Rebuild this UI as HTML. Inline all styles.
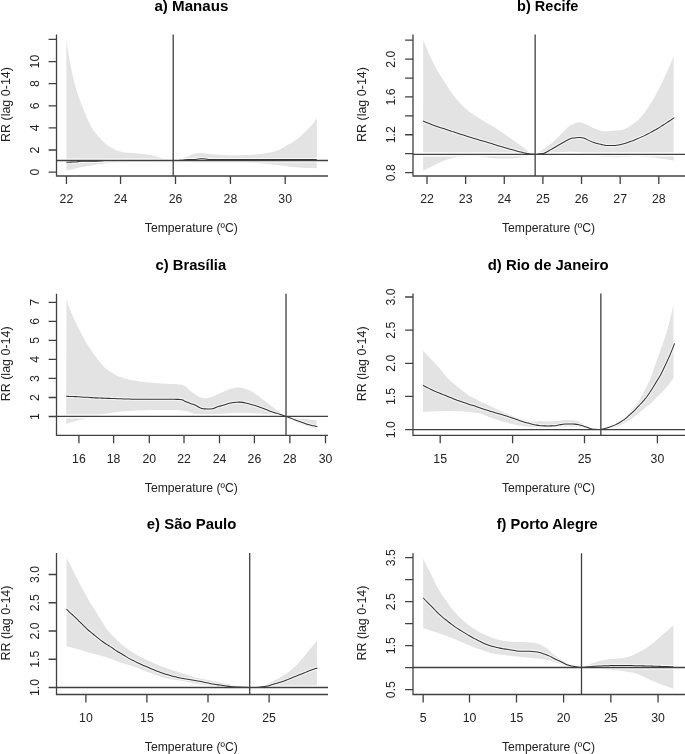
<!DOCTYPE html><html><head><meta charset="utf-8"><style>html,body{margin:0;padding:0;background:#fff;overflow:hidden}svg{display:block;will-change:transform}</style></head><body>
<svg width="685" height="754" viewBox="0 0 685 754" font-family='"Liberation Sans", sans-serif'>
<rect width="685" height="754" fill="#fff"/>
<g><path d="M66.4,39.2 66.6,40.7 66.8,42.2 67.0,43.7 67.2,45.1 67.4,46.6 67.6,48.1 67.8,49.6 68.0,51.1 68.3,52.6 68.5,54.1 68.7,55.5 69.0,57.0 69.3,58.5 69.5,60.0 69.8,61.4 70.1,62.9 70.4,64.4 70.7,65.8 71.0,67.3 71.3,68.8 71.6,70.3 71.9,71.7 72.2,73.2 72.5,74.7 72.9,76.1 73.2,77.6 73.5,79.0 73.9,80.5 74.2,82.0 74.6,83.4 75.0,84.9 75.4,86.3 75.8,87.8 76.2,89.2 76.6,90.6 77.1,92.1 77.5,93.5 78.0,94.9 78.5,96.3 79.0,97.8 79.5,99.2 80.0,100.6 80.6,102.0 81.1,103.4 81.6,104.8 82.2,106.2 82.7,107.6 83.3,108.9 83.9,110.3 84.4,111.7 85.0,113.1 85.6,114.5 86.1,115.9 86.7,117.3 87.3,118.7 87.9,120.0 88.6,121.4 89.2,122.7 89.9,124.1 90.5,125.4 91.2,126.8 92.0,128.1 92.8,129.3 93.6,130.5 94.6,131.7 95.5,132.9 96.5,134.1 97.4,135.2 98.3,136.4 99.3,137.5 100.3,138.6 101.4,139.7 102.4,140.8 103.5,141.9 104.5,142.9 105.7,143.9 106.8,144.8 108.1,145.7 109.3,146.5 110.6,147.3 111.9,148.1 113.2,148.8 114.5,149.5 115.9,150.1 117.3,150.7 118.7,151.1 120.1,151.6 121.6,151.9 123.1,152.2 124.5,152.4 126.0,152.6 127.5,152.7 129.0,152.8 130.5,152.9 132.0,153.0 133.5,153.1 135.0,153.2 136.5,153.4 138.0,153.6 139.5,153.7 141.0,153.9 142.5,154.0 144.0,154.1 145.5,154.3 146.9,154.5 148.4,154.7 149.9,154.9 151.4,155.2 152.8,155.6 154.3,155.9 155.7,156.3 157.2,156.7 158.6,157.1 160.1,157.6 161.5,158.0 162.9,158.4 164.3,159.0 165.7,159.6 166.8,160.2 166.9,160.5 166.1,160.6 164.7,160.8 163.2,161.0 161.7,161.1 160.2,161.1 158.7,161.2 157.2,161.2 155.7,161.3 154.2,161.3 152.7,161.4 151.2,161.4 149.7,161.4 148.2,161.5 146.7,161.5 145.2,161.5 143.7,161.6 142.2,161.6 140.7,161.6 139.2,161.7 137.7,161.7 136.2,161.8 134.7,161.8 133.2,161.9 131.7,161.9 130.2,162.0 128.7,162.0 127.2,162.1 125.7,162.2 124.2,162.3 122.7,162.3 121.2,162.4 119.7,162.5 118.2,162.6 116.7,162.7 115.2,162.8 113.7,162.9 112.2,163.0 110.7,163.1 109.2,163.2 107.7,163.3 106.2,163.4 104.7,163.6 103.2,163.7 101.7,163.9 100.3,164.1 98.8,164.3 97.3,164.5 95.8,164.7 94.3,164.9 92.8,165.1 91.4,165.4 89.9,165.6 88.4,165.9 86.9,166.1 85.4,166.4 84.0,166.7 82.5,167.0 81.0,167.3 79.6,167.6 78.1,167.9 76.6,168.2 75.2,168.6 73.7,168.9 72.2,169.2 70.8,169.6 69.3,169.9 67.9,170.3 66.4,170.6Z" fill="#e3e3e3"/><path d="M180.5,160.4 181.7,159.5 183.0,158.7 184.3,158.0 185.6,157.3 187.0,156.7 188.3,156.0 189.7,155.4 191.1,154.8 192.5,154.3 193.9,153.8 195.3,153.4 196.8,153.2 198.3,153.0 199.8,152.9 201.3,153.0 202.8,153.2 204.3,153.4 205.8,153.6 207.2,153.8 208.7,153.9 210.2,154.1 211.7,154.3 213.2,154.4 214.7,154.5 216.2,154.6 217.7,154.7 219.2,154.8 220.7,154.9 222.2,154.9 223.7,155.0 225.2,155.1 226.7,155.2 228.2,155.2 229.7,155.3 231.2,155.3 232.7,155.3 234.2,155.3 235.7,155.3 237.2,155.3 238.7,155.2 240.2,155.2 241.7,155.2 243.2,155.1 244.7,155.1 246.2,155.0 247.7,155.0 249.2,154.9 250.7,154.8 252.2,154.8 253.7,154.7 255.2,154.5 256.7,154.4 258.2,154.3 259.6,154.1 261.1,153.9 262.6,153.7 264.1,153.5 265.6,153.3 267.1,153.1 268.5,152.8 270.0,152.5 271.5,152.2 272.9,151.8 274.4,151.4 275.8,151.0 277.2,150.5 278.6,149.9 280.0,149.3 281.3,148.6 282.6,147.9 283.9,147.1 285.2,146.4 286.5,145.6 287.8,144.8 289.1,144.1 290.4,143.4 291.7,142.7 293.0,141.9 294.3,141.1 295.6,140.3 296.8,139.4 297.9,138.5 299.1,137.5 300.2,136.5 301.3,135.5 302.4,134.4 303.4,133.4 304.5,132.4 305.6,131.3 306.7,130.3 307.8,129.3 308.9,128.2 309.9,127.2 310.9,126.1 311.9,124.9 312.8,123.7 313.7,122.5 314.6,121.3 315.4,120.0 316.3,118.8 316.8,118.0 316.8,168.3 316.5,168.3 315.0,168.2 313.5,168.2 312.0,168.1 310.6,168.1 309.1,168.0 307.6,168.0 306.1,167.9 304.6,167.9 303.1,167.8 301.6,167.7 300.1,167.6 298.6,167.6 297.1,167.5 295.6,167.3 294.1,167.2 292.6,167.0 291.1,166.9 289.6,166.7 288.1,166.5 286.6,166.3 285.2,166.1 283.7,165.8 282.2,165.6 280.7,165.4 279.2,165.3 277.7,165.1 276.2,164.9 274.7,164.7 273.2,164.5 271.8,164.4 270.3,164.2 268.8,164.1 267.3,163.9 265.8,163.8 264.3,163.7 262.8,163.5 261.3,163.4 259.8,163.3 258.3,163.2 256.8,163.1 255.3,163.0 253.8,163.0 252.3,162.9 250.8,162.8 249.3,162.7 247.8,162.6 246.3,162.6 244.8,162.5 243.3,162.4 241.8,162.4 240.3,162.3 238.8,162.3 237.3,162.2 235.8,162.2 234.3,162.2 232.8,162.2 231.3,162.2 229.8,162.2 228.3,162.2 226.8,162.2 225.3,162.2 223.8,162.2 222.3,162.2 220.8,162.2 219.3,162.2 217.8,162.2 216.3,162.2 214.8,162.2 213.3,162.2 211.8,162.3 210.3,162.3 208.8,162.3 207.3,162.3 205.8,162.3 204.3,162.3 202.8,162.3 201.3,162.3 199.8,162.3 198.3,162.3 196.8,162.2 195.3,162.2 193.8,162.1 192.3,162.1 190.8,162.0 189.3,161.9 187.8,161.8 186.4,161.6 184.9,161.4 183.4,161.2 181.9,160.8 180.5,160.4Z" fill="#e3e3e3"/><path d="M56.5,160.5H328M173.2,34.4V176" fill="none" stroke="#fff" stroke-opacity="0.85" stroke-width="4.2"/><path d="M66.40,162.20 C66.90,162.19 68.40,162.17 69.40,162.15 C70.40,162.13 71.40,162.12 72.40,162.09 C73.40,162.07 74.41,162.09 75.40,162.01 C76.39,161.94 77.36,161.74 78.35,161.63 C79.33,161.52 80.32,161.40 81.32,161.34 C82.31,161.27 83.32,161.28 84.32,161.26 C85.32,161.25 86.32,161.24 87.32,161.23 C88.32,161.22 89.32,161.22 90.32,161.22 C91.32,161.21 92.32,161.21 93.32,161.20 C94.32,161.20 95.32,161.20 96.32,161.18 C97.31,161.15 98.34,161.12 99.31,161.05 C100.28,160.97 101.19,160.80 102.12,160.72 C103.04,160.64 103.90,160.61 104.86,160.58 C105.81,160.55 106.85,160.56 107.85,160.56 C108.85,160.55 109.85,160.55 110.85,160.55 C111.85,160.54 112.85,160.54 113.85,160.54 C114.85,160.54 115.85,160.54 116.85,160.53 C117.85,160.53 118.85,160.53 119.85,160.53 C120.85,160.53 121.85,160.53 122.85,160.53 C123.85,160.53 124.85,160.52 125.85,160.52 C126.85,160.52 127.85,160.52 128.85,160.52 C129.85,160.52 130.85,160.52 131.85,160.52 C132.85,160.52 133.85,160.52 134.85,160.52 C135.85,160.52 136.85,160.52 137.85,160.51 C138.85,160.51 139.85,160.51 140.85,160.51 C141.85,160.51 142.85,160.51 143.85,160.51 C144.85,160.51 145.85,160.51 146.85,160.51 C147.85,160.51 148.85,160.51 149.85,160.51 C150.85,160.51 151.85,160.51 152.85,160.51 C153.85,160.51 154.85,160.51 155.85,160.51 C156.85,160.51 157.85,160.51 158.85,160.51 C159.85,160.51 160.85,160.51 161.85,160.51 C162.85,160.50 163.85,160.50 164.85,160.50 C165.85,160.50 166.85,160.50 167.85,160.50 C168.85,160.50 169.98,160.50 170.85,160.50 C171.73,160.50 172.73,160.50 173.10,160.50 M173.20,160.50 C173.70,160.49 175.20,160.47 176.20,160.46 C177.20,160.44 178.20,160.44 179.20,160.40 C180.20,160.37 181.20,160.35 182.19,160.24 C183.18,160.13 184.15,159.87 185.14,159.75 C186.13,159.63 187.13,159.57 188.12,159.53 C189.12,159.48 190.12,159.50 191.12,159.48 C192.12,159.46 193.13,159.47 194.12,159.42 C195.12,159.37 196.12,159.28 197.11,159.17 C198.10,159.07 199.09,158.86 200.08,158.78 C201.07,158.70 202.07,158.65 203.07,158.70 C204.06,158.75 205.11,158.95 206.04,159.07 C206.97,159.19 207.89,159.33 208.63,159.41 C209.38,159.49 209.72,159.53 210.52,159.56 C211.33,159.59 212.47,159.58 213.46,159.58 C214.46,159.59 215.46,159.59 216.46,159.59 C217.46,159.59 218.46,159.60 219.46,159.60 C220.46,159.60 221.46,159.60 222.46,159.60 C223.46,159.61 224.46,159.61 225.46,159.61 C226.46,159.61 227.46,159.61 228.46,159.61 C229.46,159.61 230.46,159.61 231.46,159.61 C232.46,159.61 233.46,159.61 234.46,159.61 C235.46,159.61 236.46,159.61 237.46,159.61 C238.46,159.61 239.46,159.61 240.46,159.61 C241.46,159.61 242.46,159.61 243.46,159.61 C244.46,159.61 245.46,159.61 246.46,159.61 C247.46,159.61 248.46,159.61 249.46,159.61 C250.46,159.61 251.46,159.61 252.46,159.61 C253.46,159.61 254.46,159.61 255.46,159.61 C256.46,159.61 257.46,159.61 258.46,159.61 C259.46,159.61 260.46,159.61 261.46,159.61 C262.46,159.61 263.46,159.61 264.46,159.61 C265.46,159.61 266.46,159.61 267.46,159.61 C268.46,159.61 269.46,159.61 270.46,159.61 C271.46,159.61 272.46,159.61 273.46,159.61 C274.46,159.61 275.46,159.61 276.46,159.61 C277.46,159.61 278.46,159.61 279.46,159.61 C280.46,159.61 281.46,159.61 282.46,159.61 C283.46,159.61 284.46,159.61 285.46,159.61 C286.46,159.61 287.46,159.61 288.46,159.61 C289.46,159.61 290.46,159.61 291.46,159.61 C292.46,159.61 293.46,159.61 294.46,159.61 C295.46,159.61 296.46,159.60 297.46,159.60 C298.46,159.60 299.46,159.60 300.46,159.60 C301.46,159.60 302.46,159.60 303.46,159.60 C304.46,159.60 305.46,159.60 306.46,159.60 C307.46,159.60 308.46,159.60 309.46,159.60 C310.46,159.60 311.46,159.60 312.46,159.60 C313.46,159.60 314.76,159.60 315.46,159.60 C316.17,159.60 316.51,159.60 316.71,159.60" fill="none" stroke="#fff" stroke-opacity="0.6" stroke-width="3.4"/><path d="M66.40,162.20 C66.90,162.19 68.40,162.17 69.40,162.15 C70.40,162.13 71.40,162.12 72.40,162.09 C73.40,162.07 74.41,162.09 75.40,162.01 C76.39,161.94 77.36,161.74 78.35,161.63 C79.33,161.52 80.32,161.40 81.32,161.34 C82.31,161.27 83.32,161.28 84.32,161.26 C85.32,161.25 86.32,161.24 87.32,161.23 C88.32,161.22 89.32,161.22 90.32,161.22 C91.32,161.21 92.32,161.21 93.32,161.20 C94.32,161.20 95.32,161.20 96.32,161.18 C97.31,161.15 98.34,161.12 99.31,161.05 C100.28,160.97 101.19,160.80 102.12,160.72 C103.04,160.64 103.90,160.61 104.86,160.58 C105.81,160.55 106.85,160.56 107.85,160.56 C108.85,160.55 109.85,160.55 110.85,160.55 C111.85,160.54 112.85,160.54 113.85,160.54 C114.85,160.54 115.85,160.54 116.85,160.53 C117.85,160.53 118.85,160.53 119.85,160.53 C120.85,160.53 121.85,160.53 122.85,160.53 C123.85,160.53 124.85,160.52 125.85,160.52 C126.85,160.52 127.85,160.52 128.85,160.52 C129.85,160.52 130.85,160.52 131.85,160.52 C132.85,160.52 133.85,160.52 134.85,160.52 C135.85,160.52 136.85,160.52 137.85,160.51 C138.85,160.51 139.85,160.51 140.85,160.51 C141.85,160.51 142.85,160.51 143.85,160.51 C144.85,160.51 145.85,160.51 146.85,160.51 C147.85,160.51 148.85,160.51 149.85,160.51 C150.85,160.51 151.85,160.51 152.85,160.51 C153.85,160.51 154.85,160.51 155.85,160.51 C156.85,160.51 157.85,160.51 158.85,160.51 C159.85,160.51 160.85,160.51 161.85,160.51 C162.85,160.50 163.85,160.50 164.85,160.50 C165.85,160.50 166.85,160.50 167.85,160.50 C168.85,160.50 169.98,160.50 170.85,160.50 C171.73,160.50 172.73,160.50 173.10,160.50 M173.20,160.50 C173.70,160.49 175.20,160.47 176.20,160.46 C177.20,160.44 178.20,160.44 179.20,160.40 C180.20,160.37 181.20,160.35 182.19,160.24 C183.18,160.13 184.15,159.87 185.14,159.75 C186.13,159.63 187.13,159.57 188.12,159.53 C189.12,159.48 190.12,159.50 191.12,159.48 C192.12,159.46 193.13,159.47 194.12,159.42 C195.12,159.37 196.12,159.28 197.11,159.17 C198.10,159.07 199.09,158.86 200.08,158.78 C201.07,158.70 202.07,158.65 203.07,158.70 C204.06,158.75 205.11,158.95 206.04,159.07 C206.97,159.19 207.89,159.33 208.63,159.41 C209.38,159.49 209.72,159.53 210.52,159.56 C211.33,159.59 212.47,159.58 213.46,159.58 C214.46,159.59 215.46,159.59 216.46,159.59 C217.46,159.59 218.46,159.60 219.46,159.60 C220.46,159.60 221.46,159.60 222.46,159.60 C223.46,159.61 224.46,159.61 225.46,159.61 C226.46,159.61 227.46,159.61 228.46,159.61 C229.46,159.61 230.46,159.61 231.46,159.61 C232.46,159.61 233.46,159.61 234.46,159.61 C235.46,159.61 236.46,159.61 237.46,159.61 C238.46,159.61 239.46,159.61 240.46,159.61 C241.46,159.61 242.46,159.61 243.46,159.61 C244.46,159.61 245.46,159.61 246.46,159.61 C247.46,159.61 248.46,159.61 249.46,159.61 C250.46,159.61 251.46,159.61 252.46,159.61 C253.46,159.61 254.46,159.61 255.46,159.61 C256.46,159.61 257.46,159.61 258.46,159.61 C259.46,159.61 260.46,159.61 261.46,159.61 C262.46,159.61 263.46,159.61 264.46,159.61 C265.46,159.61 266.46,159.61 267.46,159.61 C268.46,159.61 269.46,159.61 270.46,159.61 C271.46,159.61 272.46,159.61 273.46,159.61 C274.46,159.61 275.46,159.61 276.46,159.61 C277.46,159.61 278.46,159.61 279.46,159.61 C280.46,159.61 281.46,159.61 282.46,159.61 C283.46,159.61 284.46,159.61 285.46,159.61 C286.46,159.61 287.46,159.61 288.46,159.61 C289.46,159.61 290.46,159.61 291.46,159.61 C292.46,159.61 293.46,159.61 294.46,159.61 C295.46,159.61 296.46,159.60 297.46,159.60 C298.46,159.60 299.46,159.60 300.46,159.60 C301.46,159.60 302.46,159.60 303.46,159.60 C304.46,159.60 305.46,159.60 306.46,159.60 C307.46,159.60 308.46,159.60 309.46,159.60 C310.46,159.60 311.46,159.60 312.46,159.60 C313.46,159.60 314.76,159.60 315.46,159.60 C316.17,159.60 316.51,159.60 316.71,159.60" fill="none" stroke="#333" stroke-width="1.05" stroke-linejoin="round"/><path d="M56.5,160.5H328M173.2,34.4V176" fill="none" stroke="#404040" stroke-width="1.3"/><path d="M56.5,34.4V176H328" fill="none" stroke="#404040" stroke-width="1.3" stroke-linejoin="miter"/><path d="M66.45,176v7.9 M120.55,176v7.9 M175.5,176v7.9 M230.45,176v7.9 M285.2,176v7.9 M56.5,172.1h-7.9 M56.5,149.99h-7.9 M56.5,127.88h-7.9 M56.5,105.78h-7.9 M56.5,83.67h-7.9 M56.5,61.56h-7.9 M56.5,39.45h-7.9" fill="none" stroke="#404040" stroke-width="1.3"/><g fill="#222"><text transform="translate(66.45,203.4) scale(1,1.04)" font-size="12.3" text-anchor="middle">22</text><text transform="translate(120.55,203.4) scale(1,1.04)" font-size="12.3" text-anchor="middle">24</text><text transform="translate(175.5,203.4) scale(1,1.04)" font-size="12.3" text-anchor="middle">26</text><text transform="translate(230.45,203.4) scale(1,1.04)" font-size="12.3" text-anchor="middle">28</text><text transform="translate(285.2,203.4) scale(1,1.04)" font-size="12.3" text-anchor="middle">30</text><text transform="translate(38.8,172.1) rotate(-90) scale(1,1.05)" font-size="12.3" text-anchor="middle">0</text><text transform="translate(38.8,149.99) rotate(-90) scale(1,1.05)" font-size="12.3" text-anchor="middle">2</text><text transform="translate(38.8,127.88) rotate(-90) scale(1,1.05)" font-size="12.3" text-anchor="middle">4</text><text transform="translate(38.8,105.78) rotate(-90) scale(1,1.05)" font-size="12.3" text-anchor="middle">6</text><text transform="translate(38.8,83.67) rotate(-90) scale(1,1.05)" font-size="12.3" text-anchor="middle">8</text><text transform="translate(38.8,61.56) rotate(-90) scale(1,1.05)" font-size="12.3" text-anchor="middle">10</text><text transform="translate(144.83,232.35) scale(1,1.1)" font-size="12.3" textLength="93.01" lengthAdjust="spacingAndGlyphs">Temperature (ºC)</text><text transform="translate(9.60,142.03) rotate(-90) scale(1,1.05)" font-size="12.3" textLength="75.00" lengthAdjust="spacingAndGlyphs">RR (lag 0-14)</text></g><text x="154.46" y="10.90" font-size="14.4" font-weight="bold" textLength="73.96" lengthAdjust="spacingAndGlyphs">a) Manaus</text></g>
<g><path d="M423.2,40.2 423.8,41.6 424.4,43.0 425.0,44.3 425.6,45.7 426.1,47.1 426.7,48.5 427.3,49.9 427.9,51.2 428.5,52.6 429.1,54.0 429.7,55.4 430.4,56.7 431.0,58.1 431.7,59.4 432.3,60.8 433.0,62.1 433.7,63.4 434.3,64.8 435.0,66.1 435.7,67.4 436.4,68.8 437.2,70.1 437.9,71.4 438.7,72.7 439.4,74.0 440.2,75.3 441.0,76.5 441.8,77.8 442.6,79.1 443.4,80.3 444.2,81.6 445.1,82.8 445.9,84.1 446.7,85.4 447.5,86.6 448.3,87.9 449.1,89.1 450.0,90.4 450.8,91.6 451.7,92.8 452.6,94.0 453.5,95.2 454.4,96.4 455.3,97.6 456.3,98.7 457.3,99.9 458.2,101.0 459.2,102.2 460.2,103.3 461.2,104.4 462.3,105.4 463.4,106.5 464.5,107.5 465.6,108.5 466.7,109.5 467.9,110.5 469.0,111.4 470.2,112.3 471.4,113.2 472.6,114.1 473.9,115.0 475.1,115.7 476.4,116.5 477.7,117.3 479.0,118.1 480.3,118.9 481.5,119.7 482.8,120.5 484.1,121.3 485.3,122.1 486.6,122.9 487.9,123.6 489.2,124.3 490.5,125.0 491.8,125.8 493.1,126.6 494.4,127.3 495.6,128.1 496.9,128.9 498.2,129.7 499.4,130.6 500.7,131.4 501.9,132.3 503.1,133.2 504.3,134.0 505.6,134.9 506.8,135.7 508.0,136.6 509.3,137.5 510.5,138.3 511.7,139.2 512.9,140.0 514.2,140.9 515.4,141.8 516.6,142.6 517.9,143.5 519.1,144.3 520.3,145.2 521.5,146.1 522.8,146.9 524.0,147.8 525.1,148.8 526.3,149.8 527.4,150.8 528.5,151.7 529.7,152.7 531.0,153.4 532.4,153.9 533.8,154.2 535.1,154.4 535.0,154.4 533.8,154.6 532.3,154.8 530.8,155.1 529.4,155.4 527.9,155.8 526.5,156.2 525.0,156.6 523.6,156.9 522.1,157.2 520.6,157.5 519.1,157.7 517.7,157.9 516.2,158.1 514.7,158.2 513.2,158.3 511.7,158.4 510.2,158.4 508.7,158.5 507.2,158.5 505.7,158.5 504.2,158.5 502.7,158.5 501.2,158.5 499.7,158.4 498.2,158.4 496.7,158.3 495.2,158.2 493.7,158.1 492.2,158.0 490.7,157.9 489.2,157.7 487.7,157.6 486.2,157.4 484.7,157.2 483.3,156.9 481.8,156.7 480.3,156.5 478.8,156.4 477.3,156.3 475.8,156.3 474.3,156.2 472.8,156.2 471.3,156.2 469.8,156.2 468.3,156.2 466.8,156.2 465.3,156.2 463.8,156.3 462.3,156.4 460.8,156.6 459.3,156.7 457.8,156.9 456.4,157.2 454.9,157.4 453.4,157.8 452.0,158.1 450.5,158.5 449.1,159.0 447.7,159.4 446.2,159.9 444.8,160.5 443.4,161.0 442.1,161.6 440.7,162.2 439.3,162.8 437.9,163.4 436.6,164.0 435.2,164.7 433.9,165.4 432.6,166.1 431.2,166.8 429.9,167.4 428.6,168.1 427.2,168.8 425.8,169.4 424.5,170.0 423.1,170.6Z" fill="#e3e3e3"/><path d="M535.1,154.4 536.4,153.6 537.7,152.8 539.0,152.0 540.2,151.2 541.5,150.4 542.7,149.6 544.0,148.7 545.3,147.9 546.5,147.1 547.7,146.2 548.9,145.3 550.1,144.3 551.2,143.4 552.3,142.4 553.4,141.4 554.6,140.4 555.7,139.4 556.7,138.3 557.8,137.3 558.9,136.2 559.9,135.2 561.0,134.1 562.1,133.0 563.1,132.0 564.1,130.9 565.2,129.8 566.2,128.7 567.3,127.6 568.4,126.7 569.6,125.8 570.9,125.0 572.3,124.4 573.6,123.7 575.0,123.2 576.4,122.7 577.9,122.3 579.3,122.3 580.8,122.5 582.3,122.9 583.7,123.3 585.1,123.9 586.5,124.5 587.8,125.1 589.1,125.8 590.5,126.5 591.8,127.2 593.2,127.9 594.5,128.5 595.9,129.0 597.3,129.6 598.7,130.1 600.1,130.5 601.6,130.9 603.1,131.2 604.5,131.3 606.0,131.3 607.5,131.2 609.0,131.1 610.5,131.0 612.0,130.8 613.5,130.7 615.0,130.6 616.5,130.5 618.0,130.4 619.5,130.2 621.0,130.0 622.4,129.7 623.9,129.2 625.3,128.7 626.6,128.0 628.0,127.4 629.3,126.6 630.5,125.8 631.8,125.0 633.0,124.1 634.2,123.2 635.4,122.3 636.5,121.4 637.7,120.4 638.8,119.3 639.8,118.3 640.8,117.2 641.8,116.0 642.8,114.9 643.7,113.7 644.6,112.5 645.5,111.3 646.3,110.1 647.2,108.8 648.0,107.6 648.9,106.3 649.7,105.1 650.5,103.8 651.3,102.5 652.0,101.2 652.8,100.0 653.6,98.7 654.3,97.4 655.1,96.1 655.8,94.8 656.5,93.4 657.2,92.1 658.0,90.8 658.6,89.5 659.3,88.1 660.0,86.8 660.7,85.5 661.3,84.1 662.0,82.8 662.6,81.4 663.3,80.0 663.9,78.7 664.5,77.3 665.1,75.9 665.8,74.6 666.4,73.2 667.0,71.8 667.6,70.5 668.2,69.1 668.8,67.7 669.4,66.4 670.0,65.0 670.6,63.6 671.2,62.2 671.7,60.8 672.3,59.4 672.9,58.0 673.4,56.7 673.6,56.2 673.7,160.5 672.2,160.3 670.7,160.0 669.2,159.8 667.7,159.5 666.3,159.3 664.8,159.1 663.3,158.8 661.8,158.6 660.3,158.4 658.8,158.2 657.4,158.0 655.9,157.8 654.4,157.6 652.9,157.4 651.4,157.3 649.9,157.1 648.4,157.0 646.9,156.8 645.4,156.7 643.9,156.6 642.4,156.5 640.9,156.4 639.4,156.3 637.9,156.3 636.4,156.3 634.9,156.3 633.4,156.4 631.9,156.5 630.5,156.6 629.0,156.7 627.5,156.8 626.0,156.9 624.5,157.0 623.0,157.1 621.5,157.2 620.0,157.2 618.5,157.2 617.0,157.3 615.5,157.3 614.0,157.2 612.5,157.2 611.0,157.1 609.5,157.1 608.0,157.0 606.5,157.0 605.0,156.9 603.5,156.8 602.0,156.7 600.5,156.6 599.0,156.4 597.5,156.2 596.1,155.9 594.6,155.5 593.2,155.1 591.7,154.7 590.3,154.3 588.8,153.9 587.4,153.5 585.9,153.2 584.4,152.9 583.0,152.7 581.5,152.5 580.0,152.3 578.5,152.1 577.0,152.0 575.5,151.9 574.0,151.8 572.5,151.8 571.0,151.8 569.5,151.8 568.0,151.8 566.5,151.9 565.0,151.9 563.5,152.0 562.0,152.1 560.5,152.2 559.0,152.4 557.5,152.5 556.0,152.6 554.5,152.7 553.0,152.9 551.6,153.0 550.1,153.1 548.6,153.3 547.1,153.4 545.6,153.5 544.1,153.7 542.6,153.8 541.1,153.9 539.6,153.9 538.1,154.0 536.6,154.1 535.1,154.2Z" fill="#e3e3e3"/><path d="M413,154.4H686M535.15,34.4V176" fill="none" stroke="#fff" stroke-opacity="0.85" stroke-width="4.2"/><path d="M423.10,121.00 C423.56,121.20 424.94,121.78 425.86,122.17 C426.78,122.56 427.70,122.96 428.63,123.34 C429.55,123.72 430.48,124.09 431.41,124.45 C432.34,124.81 433.28,125.16 434.22,125.50 C435.16,125.83 436.11,126.16 437.06,126.48 C438.01,126.80 438.96,127.11 439.91,127.42 C440.86,127.73 441.81,128.03 442.76,128.34 C443.71,128.65 444.66,128.96 445.61,129.27 C446.56,129.59 447.51,129.90 448.46,130.21 C449.41,130.53 450.36,130.84 451.31,131.16 C452.26,131.47 453.21,131.78 454.16,132.09 C455.11,132.40 456.06,132.71 457.01,133.02 C457.96,133.33 458.91,133.64 459.86,133.95 C460.82,134.26 461.77,134.56 462.72,134.87 C463.67,135.17 464.63,135.48 465.58,135.78 C466.53,136.09 467.48,136.39 468.44,136.69 C469.39,136.99 470.34,137.29 471.30,137.59 C472.25,137.89 473.21,138.19 474.16,138.48 C475.12,138.77 476.08,139.05 477.04,139.33 C478,139.62 478.96,139.90 479.92,140.18 C480.88,140.46 481.84,140.74 482.80,141.02 C483.76,141.30 484.72,141.58 485.68,141.87 C486.63,142.15 487.59,142.44 488.55,142.73 C489.51,143.02 490.46,143.31 491.42,143.61 C492.37,143.90 493.33,144.21 494.28,144.50 C495.24,144.80 496.19,145.10 497.15,145.39 C498.10,145.68 499.06,145.97 500.02,146.26 C500.98,146.54 501.94,146.83 502.90,147.11 C503.85,147.39 504.81,147.67 505.78,147.95 C506.74,148.22 507.70,148.49 508.66,148.76 C509.63,149.03 510.59,149.29 511.56,149.56 C512.52,149.82 513.49,150.08 514.45,150.35 C515.41,150.62 516.38,150.89 517.34,151.15 C518.30,151.42 519.26,151.70 520.23,151.96 C521.19,152.22 522.16,152.49 523.13,152.73 C524.10,152.96 525.08,153.18 526.06,153.36 C527.04,153.53 528.04,153.67 529.03,153.80 C530.02,153.92 531.02,154.02 532.01,154.12 C533.01,154.22 534.50,154.34 535,154.39 M535.15,154.40 C535.65,154.34 537.13,154.15 538.13,154.03 C539.12,153.91 540.12,153.83 541.11,153.70 C542.10,153.57 543.11,153.52 544.05,153.23 C544.99,152.94 545.86,152.43 546.74,151.97 C547.62,151.51 548.47,150.96 549.33,150.46 C550.20,149.96 551.06,149.46 551.93,148.95 C552.79,148.45 553.65,147.95 554.52,147.44 C555.38,146.94 556.25,146.44 557.11,145.94 C557.98,145.43 558.84,144.93 559.71,144.43 C560.57,143.93 561.44,143.43 562.31,142.94 C563.18,142.44 564.04,141.93 564.91,141.45 C565.79,140.96 566.66,140.46 567.56,140.03 C568.46,139.61 569.38,139.20 570.32,138.87 C571.26,138.54 572.22,138.26 573.20,138.06 C574.17,137.87 575.17,137.78 576.17,137.69 C577.16,137.61 578.17,137.56 579.17,137.57 C580.16,137.57 581.18,137.54 582.15,137.71 C583.12,137.88 584.06,138.23 584.99,138.60 C585.91,138.96 586.78,139.47 587.69,139.89 C588.59,140.31 589.51,140.73 590.42,141.12 C591.34,141.52 592.26,141.92 593.19,142.27 C594.13,142.62 595.08,142.94 596.04,143.22 C597,143.50 597.97,143.72 598.94,143.96 C599.92,144.19 600.89,144.42 601.87,144.63 C602.85,144.83 603.83,145.04 604.81,145.18 C605.80,145.33 606.80,145.42 607.80,145.49 C608.79,145.55 609.79,145.58 610.79,145.59 C611.79,145.60 612.79,145.58 613.79,145.53 C614.79,145.48 615.79,145.40 616.78,145.28 C617.77,145.16 618.76,145.02 619.74,144.82 C620.72,144.63 621.69,144.38 622.65,144.11 C623.62,143.84 624.57,143.53 625.52,143.22 C626.47,142.91 627.42,142.59 628.36,142.26 C629.31,141.93 630.25,141.60 631.19,141.26 C632.12,140.91 633.06,140.56 633.99,140.19 C634.92,139.83 635.85,139.45 636.77,139.07 C637.69,138.68 638.61,138.28 639.53,137.88 C640.44,137.47 641.35,137.06 642.26,136.64 C643.17,136.22 644.07,135.79 644.97,135.35 C645.87,134.91 646.76,134.47 647.65,134.02 C648.55,133.56 649.43,133.10 650.32,132.64 C651.20,132.17 652.08,131.70 652.96,131.21 C653.84,130.73 654.71,130.24 655.58,129.75 C656.44,129.25 657.31,128.75 658.17,128.23 C659.02,127.72 659.87,127.19 660.72,126.66 C661.57,126.13 662.41,125.59 663.25,125.04 C664.08,124.50 664.92,123.94 665.75,123.39 C666.59,122.84 667.42,122.28 668.25,121.73 C669.08,121.18 669.92,120.63 670.75,120.07 C671.58,119.51 672.65,118.79 673.24,118.40 C673.82,118 674.10,117.81 674.27,117.69" fill="none" stroke="#fff" stroke-opacity="0.6" stroke-width="3.4"/><path d="M423.10,121.00 C423.56,121.20 424.94,121.78 425.86,122.17 C426.78,122.56 427.70,122.96 428.63,123.34 C429.55,123.72 430.48,124.09 431.41,124.45 C432.34,124.81 433.28,125.16 434.22,125.50 C435.16,125.83 436.11,126.16 437.06,126.48 C438.01,126.80 438.96,127.11 439.91,127.42 C440.86,127.73 441.81,128.03 442.76,128.34 C443.71,128.65 444.66,128.96 445.61,129.27 C446.56,129.59 447.51,129.90 448.46,130.21 C449.41,130.53 450.36,130.84 451.31,131.16 C452.26,131.47 453.21,131.78 454.16,132.09 C455.11,132.40 456.06,132.71 457.01,133.02 C457.96,133.33 458.91,133.64 459.86,133.95 C460.82,134.26 461.77,134.56 462.72,134.87 C463.67,135.17 464.63,135.48 465.58,135.78 C466.53,136.09 467.48,136.39 468.44,136.69 C469.39,136.99 470.34,137.29 471.30,137.59 C472.25,137.89 473.21,138.19 474.16,138.48 C475.12,138.77 476.08,139.05 477.04,139.33 C478,139.62 478.96,139.90 479.92,140.18 C480.88,140.46 481.84,140.74 482.80,141.02 C483.76,141.30 484.72,141.58 485.68,141.87 C486.63,142.15 487.59,142.44 488.55,142.73 C489.51,143.02 490.46,143.31 491.42,143.61 C492.37,143.90 493.33,144.21 494.28,144.50 C495.24,144.80 496.19,145.10 497.15,145.39 C498.10,145.68 499.06,145.97 500.02,146.26 C500.98,146.54 501.94,146.83 502.90,147.11 C503.85,147.39 504.81,147.67 505.78,147.95 C506.74,148.22 507.70,148.49 508.66,148.76 C509.63,149.03 510.59,149.29 511.56,149.56 C512.52,149.82 513.49,150.08 514.45,150.35 C515.41,150.62 516.38,150.89 517.34,151.15 C518.30,151.42 519.26,151.70 520.23,151.96 C521.19,152.22 522.16,152.49 523.13,152.73 C524.10,152.96 525.08,153.18 526.06,153.36 C527.04,153.53 528.04,153.67 529.03,153.80 C530.02,153.92 531.02,154.02 532.01,154.12 C533.01,154.22 534.50,154.34 535,154.39 M535.15,154.40 C535.65,154.34 537.13,154.15 538.13,154.03 C539.12,153.91 540.12,153.83 541.11,153.70 C542.10,153.57 543.11,153.52 544.05,153.23 C544.99,152.94 545.86,152.43 546.74,151.97 C547.62,151.51 548.47,150.96 549.33,150.46 C550.20,149.96 551.06,149.46 551.93,148.95 C552.79,148.45 553.65,147.95 554.52,147.44 C555.38,146.94 556.25,146.44 557.11,145.94 C557.98,145.43 558.84,144.93 559.71,144.43 C560.57,143.93 561.44,143.43 562.31,142.94 C563.18,142.44 564.04,141.93 564.91,141.45 C565.79,140.96 566.66,140.46 567.56,140.03 C568.46,139.61 569.38,139.20 570.32,138.87 C571.26,138.54 572.22,138.26 573.20,138.06 C574.17,137.87 575.17,137.78 576.17,137.69 C577.16,137.61 578.17,137.56 579.17,137.57 C580.16,137.57 581.18,137.54 582.15,137.71 C583.12,137.88 584.06,138.23 584.99,138.60 C585.91,138.96 586.78,139.47 587.69,139.89 C588.59,140.31 589.51,140.73 590.42,141.12 C591.34,141.52 592.26,141.92 593.19,142.27 C594.13,142.62 595.08,142.94 596.04,143.22 C597,143.50 597.97,143.72 598.94,143.96 C599.92,144.19 600.89,144.42 601.87,144.63 C602.85,144.83 603.83,145.04 604.81,145.18 C605.80,145.33 606.80,145.42 607.80,145.49 C608.79,145.55 609.79,145.58 610.79,145.59 C611.79,145.60 612.79,145.58 613.79,145.53 C614.79,145.48 615.79,145.40 616.78,145.28 C617.77,145.16 618.76,145.02 619.74,144.82 C620.72,144.63 621.69,144.38 622.65,144.11 C623.62,143.84 624.57,143.53 625.52,143.22 C626.47,142.91 627.42,142.59 628.36,142.26 C629.31,141.93 630.25,141.60 631.19,141.26 C632.12,140.91 633.06,140.56 633.99,140.19 C634.92,139.83 635.85,139.45 636.77,139.07 C637.69,138.68 638.61,138.28 639.53,137.88 C640.44,137.47 641.35,137.06 642.26,136.64 C643.17,136.22 644.07,135.79 644.97,135.35 C645.87,134.91 646.76,134.47 647.65,134.02 C648.55,133.56 649.43,133.10 650.32,132.64 C651.20,132.17 652.08,131.70 652.96,131.21 C653.84,130.73 654.71,130.24 655.58,129.75 C656.44,129.25 657.31,128.75 658.17,128.23 C659.02,127.72 659.87,127.19 660.72,126.66 C661.57,126.13 662.41,125.59 663.25,125.04 C664.08,124.50 664.92,123.94 665.75,123.39 C666.59,122.84 667.42,122.28 668.25,121.73 C669.08,121.18 669.92,120.63 670.75,120.07 C671.58,119.51 672.65,118.79 673.24,118.40 C673.82,118 674.10,117.81 674.27,117.69" fill="none" stroke="#333" stroke-width="1.05" stroke-linejoin="round"/><path d="M413,154.4H686M535.15,34.4V176" fill="none" stroke="#404040" stroke-width="1.3"/><path d="M413,34.4V176H686" fill="none" stroke="#404040" stroke-width="1.3" stroke-linejoin="miter"/><path d="M427,176v7.9 M465.63,176v7.9 M504.27,176v7.9 M542.9,176v7.9 M581.53,176v7.9 M620.17,176v7.9 M658.8,176v7.9 M413,172.6h-7.9 M413,153.69h-7.9 M413,134.77h-7.9 M413,115.86h-7.9 M413,96.94h-7.9 M413,78.03h-7.9 M413,59.11h-7.9 M413,40.2h-7.9" fill="none" stroke="#404040" stroke-width="1.3"/><g fill="#222"><text transform="translate(427,203.4) scale(1,1.04)" font-size="12.3" text-anchor="middle">22</text><text transform="translate(465.63,203.4) scale(1,1.04)" font-size="12.3" text-anchor="middle">23</text><text transform="translate(504.27,203.4) scale(1,1.04)" font-size="12.3" text-anchor="middle">24</text><text transform="translate(542.9,203.4) scale(1,1.04)" font-size="12.3" text-anchor="middle">25</text><text transform="translate(581.53,203.4) scale(1,1.04)" font-size="12.3" text-anchor="middle">26</text><text transform="translate(620.17,203.4) scale(1,1.04)" font-size="12.3" text-anchor="middle">27</text><text transform="translate(658.8,203.4) scale(1,1.04)" font-size="12.3" text-anchor="middle">28</text><text transform="translate(395.3,172.6) rotate(-90) scale(1,1.05)" font-size="12.3" text-anchor="middle">0.8</text><text transform="translate(395.3,134.77) rotate(-90) scale(1,1.05)" font-size="12.3" text-anchor="middle">1.2</text><text transform="translate(395.3,96.94) rotate(-90) scale(1,1.05)" font-size="12.3" text-anchor="middle">1.6</text><text transform="translate(395.3,59.11) rotate(-90) scale(1,1.05)" font-size="12.3" text-anchor="middle">2.0</text><text transform="translate(501.98,232.35) scale(1,1.1)" font-size="12.3" textLength="93.01" lengthAdjust="spacingAndGlyphs">Temperature (ºC)</text><text transform="translate(366.10,142.03) rotate(-90) scale(1,1.05)" font-size="12.3" textLength="75.00" lengthAdjust="spacingAndGlyphs">RR (lag 0-14)</text></g><text x="517.14" y="10.90" font-size="14.4" font-weight="bold" textLength="61.25" lengthAdjust="spacingAndGlyphs">b) Recife</text></g>
<g><path d="M66.5,299.2 67.0,300.6 67.5,302.0 67.9,303.5 68.4,304.9 68.9,306.3 69.4,307.7 69.9,309.1 70.4,310.5 71.0,311.9 71.5,313.3 72.1,314.7 72.7,316.1 73.3,317.5 73.9,318.8 74.5,320.2 75.2,321.5 75.9,322.9 76.6,324.2 77.3,325.5 77.9,326.9 78.6,328.2 79.3,329.6 79.9,330.9 80.6,332.3 81.3,333.6 82.0,334.9 82.7,336.3 83.4,337.6 84.1,338.9 84.8,340.2 85.6,341.5 86.3,342.8 87.1,344.1 87.9,345.3 88.7,346.6 89.6,347.9 90.4,349.1 91.3,350.3 92.1,351.6 93.0,352.8 93.8,354.0 94.7,355.2 95.6,356.4 96.5,357.7 97.4,358.9 98.3,360.0 99.2,361.2 100.2,362.4 101.1,363.6 102.1,364.7 103.1,365.8 104.1,366.9 105.2,367.9 106.4,368.9 107.6,369.8 108.8,370.7 110.0,371.5 111.3,372.3 112.5,373.1 113.8,373.9 115.2,374.6 116.5,375.3 117.8,376.0 119.2,376.6 120.6,377.1 122.0,377.6 123.4,378.0 124.9,378.4 126.3,378.8 127.8,379.2 129.2,379.6 130.7,379.9 132.2,380.2 133.7,380.5 135.1,380.7 136.6,381.0 138.1,381.2 139.6,381.4 141.1,381.6 142.6,381.8 144.0,382.0 145.5,382.1 147.0,382.3 148.5,382.5 150.0,382.6 151.5,382.8 153.0,382.9 154.5,383.0 156.0,383.1 157.5,383.3 159.0,383.4 160.5,383.5 162.0,383.6 163.5,383.7 165.0,383.7 166.5,383.8 168.0,383.9 169.5,383.9 171.0,384.0 172.5,384.0 174.0,384.1 175.5,384.2 177.0,384.3 178.4,384.4 179.9,384.6 181.4,384.8 182.8,385.2 184.2,385.8 185.5,386.6 186.7,387.5 187.8,388.5 188.9,389.5 190.0,390.5 191.2,391.4 192.4,392.4 193.6,393.3 194.8,394.1 196.1,395.0 197.3,395.8 198.6,396.5 200.0,397.2 201.3,397.7 202.8,398.0 204.3,398.2 205.8,398.1 207.3,398.0 208.8,397.8 210.2,397.4 211.6,397.0 213.0,396.4 214.4,395.8 215.8,395.2 217.1,394.5 218.5,393.9 219.8,393.3 221.2,392.7 222.6,392.1 224.0,391.5 225.4,390.9 226.7,390.3 228.1,389.8 229.5,389.3 231.0,388.8 232.4,388.4 233.9,388.0 235.3,387.7 236.8,387.5 238.3,387.4 239.8,387.5 241.3,387.7 242.8,388.0 244.2,388.4 245.6,388.8 247.0,389.4 248.4,389.9 249.8,390.6 251.1,391.3 252.4,392.0 253.7,392.8 254.9,393.6 256.2,394.4 257.4,395.3 258.6,396.2 259.8,397.1 261.0,398.1 262.2,399.0 263.3,399.9 264.5,400.8 265.7,401.7 266.9,402.6 268.1,403.5 269.3,404.4 270.5,405.3 271.7,406.2 272.9,407.1 274.1,408.0 275.3,408.9 276.5,409.8 277.7,410.7 278.9,411.6 280.1,412.5 281.3,413.4 282.5,414.3 283.7,415.2 285.0,416.0 286.4,416.6 287.8,417.0 289.3,417.3 290.8,417.5 292.2,417.6 293.7,417.8 295.2,418.0 296.7,418.2 298.2,418.3 299.7,418.5 301.2,418.6 302.7,418.8 304.2,418.9 305.7,419.1 307.2,419.2 308.7,419.4 310.2,419.5 311.6,419.6 313.1,419.8 314.6,419.9 316.1,420.0 316.6,420.1 316.6,429.1 316.3,429.0 314.9,428.6 313.5,428.1 312.1,427.7 310.6,427.2 309.2,426.7 307.8,426.3 306.4,425.8 304.9,425.3 303.5,424.7 302.1,424.2 300.7,423.7 299.4,423.1 298.0,422.5 296.6,421.9 295.2,421.3 293.9,420.6 292.6,419.9 291.3,419.2 290.0,418.4 288.7,417.7 287.3,417.0 285.9,416.5 284.5,416.1 283.0,415.8 281.5,415.6 280.0,415.4 278.6,415.3 277.1,415.1 275.6,414.9 274.1,414.7 272.6,414.6 271.1,414.4 269.6,414.2 268.1,414.1 266.6,414.0 265.1,413.9 263.6,413.8 262.1,413.7 260.6,413.6 259.1,413.5 257.6,413.4 256.1,413.3 254.6,413.3 253.1,413.2 251.7,413.1 250.2,413.1 248.7,413.0 247.2,413.0 245.7,413.0 244.2,413.0 242.7,413.0 241.2,413.0 239.7,413.0 238.2,413.0 236.7,413.0 235.2,413.0 233.7,413.1 232.2,413.1 230.7,413.2 229.2,413.2 227.7,413.4 226.2,413.5 224.7,413.6 223.2,413.7 221.7,413.8 220.2,413.9 218.7,414.0 217.2,414.1 215.7,414.2 214.2,414.2 212.7,414.3 211.2,414.4 209.7,414.4 208.2,414.4 206.7,414.4 205.2,414.4 203.7,414.3 202.2,414.3 200.7,414.2 199.2,414.1 197.7,414.0 196.2,413.9 194.7,413.7 193.3,413.4 191.9,412.9 190.5,412.4 189.0,411.9 187.6,411.5 186.1,411.2 184.7,410.9 183.2,410.7 181.7,410.5 180.2,410.3 178.7,410.2 177.2,410.1 175.7,410.1 174.2,410.0 172.7,410.0 171.2,410.0 169.7,410.0 168.2,410.0 166.7,410.0 165.2,410.0 163.7,410.0 162.2,410.0 160.7,410.0 159.2,410.0 157.7,410.0 156.2,410.0 154.7,410.0 153.2,410.1 151.7,410.1 150.2,410.1 148.7,410.2 147.2,410.2 145.7,410.3 144.2,410.3 142.7,410.4 141.2,410.4 139.7,410.5 138.2,410.6 136.7,410.6 135.2,410.7 133.7,410.8 132.2,410.9 130.7,410.9 129.2,411.0 127.7,411.1 126.2,411.2 124.7,411.3 123.2,411.4 121.7,411.5 120.3,411.7 118.8,411.8 117.3,412.0 115.8,412.2 114.3,412.4 112.8,412.6 111.3,412.9 109.9,413.1 108.4,413.4 106.9,413.7 105.4,413.9 104.0,414.2 102.5,414.5 101.0,414.8 99.6,415.1 98.1,415.4 96.6,415.8 95.2,416.1 93.7,416.4 92.2,416.8 90.8,417.1 89.3,417.5 87.9,417.8 86.4,418.2 84.9,418.6 83.5,418.9 82.0,419.3 80.6,419.7 79.1,420.1 77.7,420.5 76.2,420.8 74.8,421.2 73.4,421.7 71.9,422.1 70.5,422.5 69.1,423.0 67.6,423.4 66.2,423.9Z" fill="#e3e3e3"/><path d="M56.5,416.45H328M286,293.7V435.45" fill="none" stroke="#fff" stroke-opacity="0.85" stroke-width="4.2"/><path d="M66.20,396.30 C66.70,396.32 68.20,396.36 69.20,396.40 C70.20,396.43 71.20,396.47 72.20,396.51 C73.20,396.55 74.19,396.59 75.19,396.64 C76.19,396.69 77.19,396.74 78.19,396.80 C79.19,396.86 80.19,396.92 81.18,396.98 C82.18,397.04 83.18,397.10 84.18,397.16 C85.18,397.22 86.17,397.29 87.17,397.35 C88.17,397.41 89.17,397.47 90.17,397.53 C91.17,397.59 92.16,397.65 93.16,397.70 C94.16,397.76 95.16,397.81 96.16,397.86 C97.16,397.91 98.16,397.96 99.15,398.01 C100.15,398.05 101.15,398.10 102.15,398.14 C103.15,398.18 104.15,398.22 105.15,398.26 C106.15,398.30 107.15,398.34 108.15,398.38 C109.15,398.41 110.15,398.45 111.14,398.49 C112.14,398.52 113.14,398.56 114.14,398.59 C115.14,398.63 116.14,398.66 117.14,398.69 C118.14,398.73 119.14,398.76 120.14,398.80 C121.14,398.83 122.14,398.87 123.14,398.90 C124.14,398.94 125.14,398.97 126.14,399.01 C127.14,399.04 128.13,399.07 129.13,399.10 C130.13,399.13 131.13,399.16 132.13,399.18 C133.13,399.21 134.13,399.23 135.13,399.25 C136.13,399.27 137.13,399.29 138.13,399.30 C139.13,399.32 140.13,399.33 141.13,399.33 C142.13,399.34 143.13,399.34 144.13,399.34 C145.13,399.34 146.13,399.33 147.13,399.33 C148.13,399.32 149.13,399.32 150.13,399.31 C151.13,399.31 152.13,399.30 153.13,399.30 C154.13,399.30 155.13,399.30 156.13,399.30 C157.13,399.30 158.13,399.30 159.13,399.30 C160.13,399.31 161.13,399.31 162.13,399.31 C163.13,399.31 164.13,399.31 165.13,399.31 C166.13,399.31 167.13,399.32 168.13,399.32 C169.13,399.32 170.13,399.32 171.13,399.33 C172.13,399.33 173.13,399.34 174.13,399.35 C175.13,399.36 176.13,399.37 177.13,399.39 C178.13,399.41 179.17,399.38 180.13,399.49 C181.08,399.61 182.01,399.75 182.87,400.08 C183.72,400.40 184.41,401.02 185.27,401.44 C186.13,401.86 187.09,402.25 188.02,402.61 C188.95,402.98 189.89,403.32 190.84,403.63 C191.79,403.94 192.78,404.13 193.71,404.48 C194.64,404.83 195.54,405.27 196.42,405.73 C197.30,406.19 198.10,406.82 198.99,407.26 C199.88,407.71 200.80,408.13 201.75,408.39 C202.70,408.66 203.71,408.77 204.70,408.87 C205.69,408.97 206.69,408.98 207.69,409 C208.69,409.02 209.70,409.07 210.69,408.97 C211.67,408.87 212.66,408.68 213.61,408.41 C214.56,408.13 215.46,407.65 216.39,407.32 C217.33,406.98 218.29,406.67 219.24,406.37 C220.19,406.07 221.16,405.81 222.12,405.52 C223.07,405.23 224.03,404.94 224.99,404.64 C225.94,404.34 226.88,404.01 227.84,403.73 C228.80,403.45 229.77,403.19 230.74,402.98 C231.72,402.77 232.71,402.62 233.70,402.49 C234.69,402.36 235.69,402.27 236.69,402.21 C237.68,402.14 238.69,402.08 239.68,402.11 C240.68,402.13 241.68,402.22 242.67,402.36 C243.65,402.49 244.63,402.71 245.61,402.93 C246.58,403.14 247.55,403.41 248.52,403.66 C249.48,403.92 250.45,404.18 251.41,404.46 C252.37,404.73 253.33,405.01 254.29,405.30 C255.25,405.59 256.20,405.89 257.15,406.20 C258.10,406.51 259.05,406.82 259.99,407.16 C260.93,407.49 261.87,407.84 262.80,408.21 C263.73,408.57 264.65,408.96 265.58,409.34 C266.50,409.73 267.42,410.13 268.35,410.50 C269.28,410.87 270.21,411.24 271.15,411.57 C272.09,411.90 273.05,412.19 274.01,412.48 C274.96,412.77 275.93,413.02 276.89,413.31 C277.85,413.60 278.80,413.91 279.75,414.22 C280.69,414.54 281.64,414.88 282.58,415.21 C283.52,415.55 284.46,415.89 285.40,416.23 C286.34,416.58 287.27,416.93 288.21,417.28 C289.15,417.63 290.08,417.99 291.01,418.35 C291.95,418.70 292.88,419.06 293.82,419.41 C294.76,419.76 295.70,420.10 296.64,420.44 C297.58,420.78 298.52,421.11 299.46,421.45 C300.41,421.78 301.35,422.11 302.29,422.44 C303.23,422.78 304.17,423.13 305.11,423.46 C306.06,423.79 307,424.13 307.96,424.42 C308.91,424.71 309.88,424.96 310.85,425.20 C311.82,425.44 312.80,425.63 313.78,425.84 C314.76,426.04 316.11,426.30 316.72,426.42 C317.34,426.55 317.34,426.55 317.46,426.57" fill="none" stroke="#fff" stroke-opacity="0.6" stroke-width="3.4"/><path d="M66.20,396.30 C66.70,396.32 68.20,396.36 69.20,396.40 C70.20,396.43 71.20,396.47 72.20,396.51 C73.20,396.55 74.19,396.59 75.19,396.64 C76.19,396.69 77.19,396.74 78.19,396.80 C79.19,396.86 80.19,396.92 81.18,396.98 C82.18,397.04 83.18,397.10 84.18,397.16 C85.18,397.22 86.17,397.29 87.17,397.35 C88.17,397.41 89.17,397.47 90.17,397.53 C91.17,397.59 92.16,397.65 93.16,397.70 C94.16,397.76 95.16,397.81 96.16,397.86 C97.16,397.91 98.16,397.96 99.15,398.01 C100.15,398.05 101.15,398.10 102.15,398.14 C103.15,398.18 104.15,398.22 105.15,398.26 C106.15,398.30 107.15,398.34 108.15,398.38 C109.15,398.41 110.15,398.45 111.14,398.49 C112.14,398.52 113.14,398.56 114.14,398.59 C115.14,398.63 116.14,398.66 117.14,398.69 C118.14,398.73 119.14,398.76 120.14,398.80 C121.14,398.83 122.14,398.87 123.14,398.90 C124.14,398.94 125.14,398.97 126.14,399.01 C127.14,399.04 128.13,399.07 129.13,399.10 C130.13,399.13 131.13,399.16 132.13,399.18 C133.13,399.21 134.13,399.23 135.13,399.25 C136.13,399.27 137.13,399.29 138.13,399.30 C139.13,399.32 140.13,399.33 141.13,399.33 C142.13,399.34 143.13,399.34 144.13,399.34 C145.13,399.34 146.13,399.33 147.13,399.33 C148.13,399.32 149.13,399.32 150.13,399.31 C151.13,399.31 152.13,399.30 153.13,399.30 C154.13,399.30 155.13,399.30 156.13,399.30 C157.13,399.30 158.13,399.30 159.13,399.30 C160.13,399.31 161.13,399.31 162.13,399.31 C163.13,399.31 164.13,399.31 165.13,399.31 C166.13,399.31 167.13,399.32 168.13,399.32 C169.13,399.32 170.13,399.32 171.13,399.33 C172.13,399.33 173.13,399.34 174.13,399.35 C175.13,399.36 176.13,399.37 177.13,399.39 C178.13,399.41 179.17,399.38 180.13,399.49 C181.08,399.61 182.01,399.75 182.87,400.08 C183.72,400.40 184.41,401.02 185.27,401.44 C186.13,401.86 187.09,402.25 188.02,402.61 C188.95,402.98 189.89,403.32 190.84,403.63 C191.79,403.94 192.78,404.13 193.71,404.48 C194.64,404.83 195.54,405.27 196.42,405.73 C197.30,406.19 198.10,406.82 198.99,407.26 C199.88,407.71 200.80,408.13 201.75,408.39 C202.70,408.66 203.71,408.77 204.70,408.87 C205.69,408.97 206.69,408.98 207.69,409 C208.69,409.02 209.70,409.07 210.69,408.97 C211.67,408.87 212.66,408.68 213.61,408.41 C214.56,408.13 215.46,407.65 216.39,407.32 C217.33,406.98 218.29,406.67 219.24,406.37 C220.19,406.07 221.16,405.81 222.12,405.52 C223.07,405.23 224.03,404.94 224.99,404.64 C225.94,404.34 226.88,404.01 227.84,403.73 C228.80,403.45 229.77,403.19 230.74,402.98 C231.72,402.77 232.71,402.62 233.70,402.49 C234.69,402.36 235.69,402.27 236.69,402.21 C237.68,402.14 238.69,402.08 239.68,402.11 C240.68,402.13 241.68,402.22 242.67,402.36 C243.65,402.49 244.63,402.71 245.61,402.93 C246.58,403.14 247.55,403.41 248.52,403.66 C249.48,403.92 250.45,404.18 251.41,404.46 C252.37,404.73 253.33,405.01 254.29,405.30 C255.25,405.59 256.20,405.89 257.15,406.20 C258.10,406.51 259.05,406.82 259.99,407.16 C260.93,407.49 261.87,407.84 262.80,408.21 C263.73,408.57 264.65,408.96 265.58,409.34 C266.50,409.73 267.42,410.13 268.35,410.50 C269.28,410.87 270.21,411.24 271.15,411.57 C272.09,411.90 273.05,412.19 274.01,412.48 C274.96,412.77 275.93,413.02 276.89,413.31 C277.85,413.60 278.80,413.91 279.75,414.22 C280.69,414.54 281.64,414.88 282.58,415.21 C283.52,415.55 284.46,415.89 285.40,416.23 C286.34,416.58 287.27,416.93 288.21,417.28 C289.15,417.63 290.08,417.99 291.01,418.35 C291.95,418.70 292.88,419.06 293.82,419.41 C294.76,419.76 295.70,420.10 296.64,420.44 C297.58,420.78 298.52,421.11 299.46,421.45 C300.41,421.78 301.35,422.11 302.29,422.44 C303.23,422.78 304.17,423.13 305.11,423.46 C306.06,423.79 307,424.13 307.96,424.42 C308.91,424.71 309.88,424.96 310.85,425.20 C311.82,425.44 312.80,425.63 313.78,425.84 C314.76,426.04 316.11,426.30 316.72,426.42 C317.34,426.55 317.34,426.55 317.46,426.57" fill="none" stroke="#333" stroke-width="1.05" stroke-linejoin="round"/><path d="M56.5,416.45H328M286,293.7V435.45" fill="none" stroke="#404040" stroke-width="1.3"/><path d="M56.5,293.7V435.45H328" fill="none" stroke="#404040" stroke-width="1.3" stroke-linejoin="miter"/><path d="M78.9,435.45v7.9 M113.6,435.45v7.9 M149.3,435.45v7.9 M184,435.45v7.9 M219.5,435.45v7.9 M254.4,435.45v7.9 M289.85,435.45v7.9 M325.5,435.45v7.9 M56.5,416.5h-7.9 M56.5,397.48h-7.9 M56.5,378.47h-7.9 M56.5,359.45h-7.9 M56.5,340.43h-7.9 M56.5,321.42h-7.9 M56.5,302.4h-7.9" fill="none" stroke="#404040" stroke-width="1.3"/><g fill="#222"><text transform="translate(78.9,462.7) scale(1,1.04)" font-size="12.3" text-anchor="middle">16</text><text transform="translate(113.6,462.7) scale(1,1.04)" font-size="12.3" text-anchor="middle">18</text><text transform="translate(149.3,462.7) scale(1,1.04)" font-size="12.3" text-anchor="middle">20</text><text transform="translate(184,462.7) scale(1,1.04)" font-size="12.3" text-anchor="middle">22</text><text transform="translate(219.5,462.7) scale(1,1.04)" font-size="12.3" text-anchor="middle">24</text><text transform="translate(254.4,462.7) scale(1,1.04)" font-size="12.3" text-anchor="middle">26</text><text transform="translate(289.85,462.7) scale(1,1.04)" font-size="12.3" text-anchor="middle">28</text><text transform="translate(325.5,462.7) scale(1,1.04)" font-size="12.3" text-anchor="middle">30</text><text transform="translate(38.8,416.5) rotate(-90) scale(1,1.05)" font-size="12.3" text-anchor="middle">1</text><text transform="translate(38.8,397.48) rotate(-90) scale(1,1.05)" font-size="12.3" text-anchor="middle">2</text><text transform="translate(38.8,378.47) rotate(-90) scale(1,1.05)" font-size="12.3" text-anchor="middle">3</text><text transform="translate(38.8,359.45) rotate(-90) scale(1,1.05)" font-size="12.3" text-anchor="middle">4</text><text transform="translate(38.8,340.43) rotate(-90) scale(1,1.05)" font-size="12.3" text-anchor="middle">5</text><text transform="translate(38.8,321.42) rotate(-90) scale(1,1.05)" font-size="12.3" text-anchor="middle">6</text><text transform="translate(38.8,302.4) rotate(-90) scale(1,1.05)" font-size="12.3" text-anchor="middle">7</text><text transform="translate(144.83,491.65) scale(1,1.1)" font-size="12.3" textLength="93.01" lengthAdjust="spacingAndGlyphs">Temperature (ºC)</text><text transform="translate(9.60,401.33) rotate(-90) scale(1,1.05)" font-size="12.3" textLength="75.00" lengthAdjust="spacingAndGlyphs">RR (lag 0-14)</text></g><text x="155.52" y="270.20" font-size="14.4" font-weight="bold" textLength="70.58" lengthAdjust="spacingAndGlyphs">c) Brasília</text></g>
<g><path d="M423.0,350.6 424.0,351.7 425.1,352.8 426.1,353.8 427.1,354.9 428.2,356.0 429.2,357.1 430.2,358.2 431.2,359.3 432.3,360.4 433.3,361.5 434.3,362.6 435.3,363.7 436.4,364.8 437.4,365.9 438.5,366.9 439.5,368.1 440.5,369.2 441.4,370.4 442.3,371.5 443.2,372.8 444.1,374.0 445.0,375.2 445.9,376.3 446.9,377.5 448.0,378.5 449.1,379.5 450.2,380.5 451.4,381.5 452.5,382.4 453.7,383.4 454.8,384.3 456.0,385.3 457.1,386.3 458.3,387.2 459.4,388.2 460.6,389.1 461.7,390.1 462.9,391.0 464.1,392.0 465.3,392.9 466.5,393.8 467.7,394.7 468.9,395.5 470.2,396.2 471.6,396.9 472.9,397.6 474.3,398.2 475.6,398.9 476.9,399.6 478.2,400.4 479.5,401.1 480.9,401.8 482.2,402.5 483.6,403.1 484.9,403.7 486.3,404.3 487.7,405.0 489.0,405.6 490.4,406.2 491.7,406.9 493.1,407.5 494.5,408.1 495.8,408.7 497.2,409.4 498.6,410.0 499.9,410.6 501.3,411.2 502.7,411.8 504.0,412.4 505.4,413.0 506.8,413.6 508.2,414.2 509.6,414.8 511.0,415.3 512.3,415.9 513.7,416.4 515.1,417.0 516.5,417.5 518.0,418.0 519.4,418.5 520.8,419.0 522.2,419.5 523.6,419.9 525.1,420.3 526.5,420.7 528.0,421.0 529.5,421.3 531.0,421.5 532.4,421.6 533.9,421.7 535.4,421.6 536.9,421.4 538.4,421.2 539.9,421.1 541.4,421.1 542.9,421.2 544.4,421.3 545.9,421.3 547.4,421.3 548.9,421.3 550.4,421.3 551.9,421.2 553.4,421.2 554.9,421.1 556.4,421.0 557.9,420.9 559.4,420.7 560.9,420.6 562.3,420.4 563.8,420.3 565.3,420.1 566.8,420.0 568.3,419.9 569.8,419.9 571.3,420.0 572.8,420.1 574.3,420.4 575.8,420.7 577.2,421.1 578.6,421.6 580.0,422.2 581.3,422.9 582.6,423.6 583.9,424.4 585.3,425.1 586.6,425.7 587.9,426.4 589.3,427.1 590.6,427.7 592.0,428.3 593.4,428.7 594.9,429.0 596.4,429.3 597.9,429.5 599.4,429.5 600.9,429.5 602.4,429.4 603.8,429.2 605.3,428.9 606.8,428.5 608.2,428.0 609.6,427.5 611.0,426.9 612.4,426.3 613.7,425.7 615.0,425.0 616.3,424.2 617.6,423.4 618.9,422.6 620.1,421.7 621.3,420.8 622.4,419.9 623.6,418.9 624.7,417.9 625.8,416.9 626.9,415.9 627.9,414.8 629.0,413.7 630.0,412.6 631.0,411.5 632.0,410.3 632.9,409.2 633.9,408.0 634.8,406.8 635.7,405.6 636.5,404.4 637.4,403.2 638.2,401.9 639.0,400.7 639.8,399.4 640.6,398.1 641.3,396.8 642.0,395.5 642.7,394.1 643.4,392.8 644.1,391.5 644.8,390.2 645.5,388.8 646.2,387.5 646.9,386.2 647.6,384.8 648.2,383.5 648.8,382.1 649.4,380.7 650.0,379.3 650.5,377.9 651.0,376.5 651.6,375.1 652.1,373.7 652.6,372.3 653.1,370.9 653.6,369.5 654.1,368.1 654.6,366.6 655.1,365.2 655.6,363.8 656.1,362.4 656.6,361.0 657.1,359.6 657.6,358.2 658.1,356.7 658.6,355.3 659.1,353.9 659.6,352.5 660.1,351.1 660.6,349.7 661.1,348.3 661.6,346.9 662.1,345.4 662.6,344.0 663.2,342.6 663.7,341.2 664.2,339.8 664.7,338.4 665.1,337.0 665.6,335.5 666.1,334.1 666.5,332.7 666.9,331.2 667.3,329.8 667.7,328.3 668.1,326.9 668.5,325.4 668.9,324.0 669.2,322.5 669.6,321.1 670.0,319.6 670.3,318.2 670.7,316.7 671.1,315.3 671.4,313.8 671.7,312.3 672.1,310.9 672.4,309.4 672.8,308.0 673.1,306.5 673.4,305.0 673.5,378.0 673.2,378.5 672.3,379.7 671.4,380.9 670.6,382.1 669.7,383.3 668.8,384.5 667.8,385.7 666.9,386.9 666.0,388.1 665.0,389.2 664.0,390.3 662.9,391.3 661.8,392.4 660.7,393.4 659.7,394.5 658.6,395.5 657.5,396.6 656.5,397.6 655.4,398.7 654.4,399.8 653.3,400.8 652.3,401.9 651.2,402.9 650.0,403.9 648.9,404.9 647.7,405.8 646.5,406.8 645.4,407.7 644.2,408.7 643.1,409.6 641.9,410.6 640.8,411.6 639.7,412.6 638.5,413.5 637.3,414.4 636.1,415.3 634.9,416.2 633.7,417.1 632.5,418.0 631.3,418.8 630.0,419.7 628.8,420.5 627.5,421.3 626.2,422.1 624.9,422.9 623.6,423.6 622.3,424.3 620.9,424.9 619.5,425.5 618.1,426.0 616.7,426.5 615.3,426.9 613.8,427.3 612.4,427.6 610.9,428.0 609.4,428.3 608.0,428.6 606.5,428.9 605.0,429.1 603.5,429.4 602.0,429.5 600.6,429.6 599.1,429.6 597.6,429.6 596.1,429.4 594.6,429.3 593.1,429.1 591.6,428.9 590.1,428.6 588.7,428.3 587.2,428.0 585.7,427.7 584.2,427.5 582.7,427.3 581.3,427.1 579.8,426.9 578.3,426.8 576.8,426.7 575.3,426.6 573.8,426.5 572.3,426.5 570.8,426.5 569.3,426.5 567.8,426.5 566.3,426.5 564.8,426.5 563.3,426.5 561.8,426.6 560.3,426.6 558.8,426.7 557.3,426.8 555.8,427.0 554.3,427.2 552.8,427.3 551.3,427.4 549.8,427.5 548.3,427.5 546.8,427.5 545.3,427.5 543.8,427.4 542.3,427.4 540.8,427.3 539.3,427.3 537.8,427.2 536.3,427.2 534.8,427.1 533.3,427.0 531.8,426.9 530.4,426.8 528.9,426.7 527.4,426.5 525.9,426.3 524.4,426.2 522.9,426.0 521.4,425.8 519.9,425.6 518.4,425.4 517.0,425.1 515.5,424.9 514.0,424.6 512.5,424.2 511.1,423.9 509.6,423.5 508.2,423.1 506.7,422.7 505.3,422.3 503.9,421.9 502.4,421.5 501.0,421.1 499.5,420.6 498.1,420.2 496.7,419.7 495.3,419.2 493.8,418.8 492.4,418.2 491.0,417.7 489.6,417.2 488.2,416.7 486.8,416.1 485.5,415.5 484.1,414.9 482.7,414.3 481.3,413.8 479.9,413.4 478.4,413.1 476.9,412.9 475.4,412.7 473.9,412.6 472.4,412.4 470.9,412.3 469.4,412.1 468.0,411.9 466.5,411.8 465.0,411.6 463.5,411.5 462.0,411.4 460.5,411.3 459.0,411.3 457.5,411.2 456.0,411.2 454.5,411.2 453.0,411.1 451.5,411.1 450.0,411.1 448.5,411.1 447.0,411.1 445.5,411.1 444.0,411.1 442.5,411.2 441.0,411.2 439.5,411.2 438.0,411.3 436.5,411.3 435.0,411.4 433.5,411.4 432.0,411.5 430.5,411.5 429.0,411.6 427.5,411.7 426.0,411.7 424.5,411.8 423.0,411.9Z" fill="#e3e3e3"/><path d="M413,429.7H686M600.85,293.6V435.45" fill="none" stroke="#fff" stroke-opacity="0.85" stroke-width="4.2"/><path d="M423.00,385.40 C423.44,385.63 424.77,386.33 425.66,386.78 C426.55,387.24 427.44,387.69 428.34,388.13 C429.24,388.57 430.15,389 431.05,389.42 C431.96,389.84 432.87,390.26 433.78,390.67 C434.69,391.09 435.60,391.49 436.52,391.90 C437.43,392.30 438.35,392.69 439.27,393.08 C440.20,393.46 441.12,393.84 442.05,394.21 C442.98,394.58 443.92,394.94 444.85,395.30 C445.78,395.67 446.71,396.03 447.64,396.40 C448.57,396.77 449.49,397.15 450.42,397.52 C451.35,397.90 452.27,398.28 453.20,398.66 C454.12,399.03 455.05,399.40 455.98,399.77 C456.92,400.13 457.85,400.48 458.79,400.83 C459.73,401.18 460.67,401.52 461.61,401.85 C462.55,402.19 463.49,402.52 464.44,402.84 C465.39,403.16 466.34,403.48 467.29,403.78 C468.24,404.08 469.20,404.36 470.16,404.65 C471.12,404.93 472.08,405.20 473.04,405.49 C474,405.78 474.96,406.06 475.90,406.39 C476.84,406.72 477.76,407.13 478.69,407.48 C479.63,407.83 480.57,408.18 481.51,408.50 C482.46,408.82 483.42,409.12 484.37,409.42 C485.32,409.72 486.28,410.02 487.23,410.31 C488.19,410.61 489.14,410.91 490.10,411.20 C491.06,411.49 492.02,411.77 492.97,412.06 C493.93,412.34 494.89,412.63 495.85,412.91 C496.81,413.19 497.77,413.48 498.73,413.76 C499.69,414.04 500.65,414.32 501.61,414.60 C502.57,414.88 503.53,415.16 504.49,415.45 C505.44,415.74 506.40,416.03 507.35,416.34 C508.30,416.64 509.25,416.95 510.20,417.27 C511.15,417.58 512.10,417.90 513.05,418.22 C513.99,418.55 514.93,418.88 515.87,419.23 C516.81,419.57 517.73,419.96 518.67,420.31 C519.61,420.65 520.55,421 521.50,421.31 C522.45,421.62 523.41,421.89 524.37,422.16 C525.33,422.44 526.30,422.69 527.27,422.95 C528.23,423.21 529.20,423.48 530.17,423.72 C531.14,423.97 532.11,424.20 533.08,424.42 C534.06,424.63 535.05,424.81 536.03,424.99 C537.01,425.18 537.99,425.39 538.98,425.53 C539.97,425.66 540.96,425.74 541.96,425.80 C542.96,425.86 543.96,425.87 544.96,425.89 C545.96,425.91 546.96,425.92 547.96,425.92 C548.96,425.92 549.96,425.91 550.96,425.88 C551.96,425.86 552.96,425.86 553.96,425.79 C554.95,425.72 555.94,425.60 556.93,425.44 C557.91,425.28 558.88,425.02 559.86,424.82 C560.84,424.63 561.82,424.39 562.81,424.26 C563.79,424.14 564.80,424.10 565.79,424.06 C566.79,424.01 567.79,424.01 568.79,424 C569.79,424 570.79,423.99 571.79,424.01 C572.79,424.03 573.80,424.04 574.79,424.13 C575.78,424.22 576.78,424.35 577.75,424.55 C578.73,424.75 579.69,425.03 580.65,425.30 C581.62,425.57 582.57,425.87 583.53,426.17 C584.48,426.47 585.43,426.78 586.37,427.11 C587.32,427.44 588.24,427.84 589.19,428.15 C590.14,428.45 591.10,428.74 592.07,428.94 C593.05,429.14 594.05,429.24 595.04,429.34 C596.04,429.44 597.04,429.50 598.03,429.53 C599.03,429.55 600.04,429.57 601.03,429.47 C602.01,429.36 602.99,429.15 603.95,428.88 C604.91,428.62 605.83,428.21 606.78,427.89 C607.73,427.57 608.68,427.28 609.63,426.96 C610.58,426.64 611.54,426.34 612.47,425.99 C613.41,425.64 614.34,425.27 615.25,424.86 C616.16,424.45 617.05,424 617.94,423.54 C618.82,423.07 619.69,422.58 620.55,422.06 C621.40,421.54 622.24,421 623.06,420.42 C623.87,419.85 624.67,419.23 625.44,418.61 C626.22,417.98 626.97,417.32 627.72,416.66 C628.47,416 629.21,415.32 629.94,414.64 C630.68,413.96 631.41,413.28 632.14,412.60 C632.87,411.91 633.59,411.22 634.30,410.52 C635.02,409.82 635.72,409.11 636.42,408.39 C637.11,407.67 637.80,406.94 638.48,406.21 C639.17,405.48 639.85,404.75 640.52,404.01 C641.20,403.28 641.87,402.54 642.54,401.79 C643.20,401.05 643.87,400.30 644.52,399.54 C645.16,398.78 645.81,398.01 646.43,397.22 C647.04,396.44 647.64,395.64 648.22,394.82 C648.80,394.01 649.35,393.17 649.89,392.33 C650.44,391.50 650.97,390.65 651.50,389.80 C652.04,388.95 652.57,388.11 653.10,387.26 C653.62,386.41 654.12,385.54 654.64,384.68 C655.15,383.83 655.68,382.98 656.20,382.13 C656.73,381.28 657.27,380.44 657.80,379.58 C658.32,378.73 658.84,377.88 659.34,377.01 C659.84,376.14 660.33,375.27 660.80,374.39 C661.27,373.51 661.71,372.61 662.16,371.72 C662.61,370.82 663.04,369.92 663.48,369.02 C663.92,368.13 664.36,367.23 664.79,366.32 C665.22,365.42 665.64,364.52 666.06,363.61 C666.48,362.70 666.89,361.79 667.31,360.88 C667.72,359.97 668.13,359.06 668.54,358.15 C668.95,357.23 669.37,356.32 669.77,355.41 C670.17,354.49 670.56,353.57 670.95,352.65 C671.33,351.73 671.71,350.80 672.07,349.87 C672.44,348.94 672.80,348 673.15,347.07 C673.51,346.13 673.97,344.88 674.20,344.26 C674.44,343.64 674.50,343.48 674.55,343.32" fill="none" stroke="#fff" stroke-opacity="0.6" stroke-width="3.4"/><path d="M423.00,385.40 C423.44,385.63 424.77,386.33 425.66,386.78 C426.55,387.24 427.44,387.69 428.34,388.13 C429.24,388.57 430.15,389 431.05,389.42 C431.96,389.84 432.87,390.26 433.78,390.67 C434.69,391.09 435.60,391.49 436.52,391.90 C437.43,392.30 438.35,392.69 439.27,393.08 C440.20,393.46 441.12,393.84 442.05,394.21 C442.98,394.58 443.92,394.94 444.85,395.30 C445.78,395.67 446.71,396.03 447.64,396.40 C448.57,396.77 449.49,397.15 450.42,397.52 C451.35,397.90 452.27,398.28 453.20,398.66 C454.12,399.03 455.05,399.40 455.98,399.77 C456.92,400.13 457.85,400.48 458.79,400.83 C459.73,401.18 460.67,401.52 461.61,401.85 C462.55,402.19 463.49,402.52 464.44,402.84 C465.39,403.16 466.34,403.48 467.29,403.78 C468.24,404.08 469.20,404.36 470.16,404.65 C471.12,404.93 472.08,405.20 473.04,405.49 C474,405.78 474.96,406.06 475.90,406.39 C476.84,406.72 477.76,407.13 478.69,407.48 C479.63,407.83 480.57,408.18 481.51,408.50 C482.46,408.82 483.42,409.12 484.37,409.42 C485.32,409.72 486.28,410.02 487.23,410.31 C488.19,410.61 489.14,410.91 490.10,411.20 C491.06,411.49 492.02,411.77 492.97,412.06 C493.93,412.34 494.89,412.63 495.85,412.91 C496.81,413.19 497.77,413.48 498.73,413.76 C499.69,414.04 500.65,414.32 501.61,414.60 C502.57,414.88 503.53,415.16 504.49,415.45 C505.44,415.74 506.40,416.03 507.35,416.34 C508.30,416.64 509.25,416.95 510.20,417.27 C511.15,417.58 512.10,417.90 513.05,418.22 C513.99,418.55 514.93,418.88 515.87,419.23 C516.81,419.57 517.73,419.96 518.67,420.31 C519.61,420.65 520.55,421 521.50,421.31 C522.45,421.62 523.41,421.89 524.37,422.16 C525.33,422.44 526.30,422.69 527.27,422.95 C528.23,423.21 529.20,423.48 530.17,423.72 C531.14,423.97 532.11,424.20 533.08,424.42 C534.06,424.63 535.05,424.81 536.03,424.99 C537.01,425.18 537.99,425.39 538.98,425.53 C539.97,425.66 540.96,425.74 541.96,425.80 C542.96,425.86 543.96,425.87 544.96,425.89 C545.96,425.91 546.96,425.92 547.96,425.92 C548.96,425.92 549.96,425.91 550.96,425.88 C551.96,425.86 552.96,425.86 553.96,425.79 C554.95,425.72 555.94,425.60 556.93,425.44 C557.91,425.28 558.88,425.02 559.86,424.82 C560.84,424.63 561.82,424.39 562.81,424.26 C563.79,424.14 564.80,424.10 565.79,424.06 C566.79,424.01 567.79,424.01 568.79,424 C569.79,424 570.79,423.99 571.79,424.01 C572.79,424.03 573.80,424.04 574.79,424.13 C575.78,424.22 576.78,424.35 577.75,424.55 C578.73,424.75 579.69,425.03 580.65,425.30 C581.62,425.57 582.57,425.87 583.53,426.17 C584.48,426.47 585.43,426.78 586.37,427.11 C587.32,427.44 588.24,427.84 589.19,428.15 C590.14,428.45 591.10,428.74 592.07,428.94 C593.05,429.14 594.05,429.24 595.04,429.34 C596.04,429.44 597.04,429.50 598.03,429.53 C599.03,429.55 600.04,429.57 601.03,429.47 C602.01,429.36 602.99,429.15 603.95,428.88 C604.91,428.62 605.83,428.21 606.78,427.89 C607.73,427.57 608.68,427.28 609.63,426.96 C610.58,426.64 611.54,426.34 612.47,425.99 C613.41,425.64 614.34,425.27 615.25,424.86 C616.16,424.45 617.05,424 617.94,423.54 C618.82,423.07 619.69,422.58 620.55,422.06 C621.40,421.54 622.24,421 623.06,420.42 C623.87,419.85 624.67,419.23 625.44,418.61 C626.22,417.98 626.97,417.32 627.72,416.66 C628.47,416 629.21,415.32 629.94,414.64 C630.68,413.96 631.41,413.28 632.14,412.60 C632.87,411.91 633.59,411.22 634.30,410.52 C635.02,409.82 635.72,409.11 636.42,408.39 C637.11,407.67 637.80,406.94 638.48,406.21 C639.17,405.48 639.85,404.75 640.52,404.01 C641.20,403.28 641.87,402.54 642.54,401.79 C643.20,401.05 643.87,400.30 644.52,399.54 C645.16,398.78 645.81,398.01 646.43,397.22 C647.04,396.44 647.64,395.64 648.22,394.82 C648.80,394.01 649.35,393.17 649.89,392.33 C650.44,391.50 650.97,390.65 651.50,389.80 C652.04,388.95 652.57,388.11 653.10,387.26 C653.62,386.41 654.12,385.54 654.64,384.68 C655.15,383.83 655.68,382.98 656.20,382.13 C656.73,381.28 657.27,380.44 657.80,379.58 C658.32,378.73 658.84,377.88 659.34,377.01 C659.84,376.14 660.33,375.27 660.80,374.39 C661.27,373.51 661.71,372.61 662.16,371.72 C662.61,370.82 663.04,369.92 663.48,369.02 C663.92,368.13 664.36,367.23 664.79,366.32 C665.22,365.42 665.64,364.52 666.06,363.61 C666.48,362.70 666.89,361.79 667.31,360.88 C667.72,359.97 668.13,359.06 668.54,358.15 C668.95,357.23 669.37,356.32 669.77,355.41 C670.17,354.49 670.56,353.57 670.95,352.65 C671.33,351.73 671.71,350.80 672.07,349.87 C672.44,348.94 672.80,348 673.15,347.07 C673.51,346.13 673.97,344.88 674.20,344.26 C674.44,343.64 674.50,343.48 674.55,343.32" fill="none" stroke="#333" stroke-width="1.05" stroke-linejoin="round"/><path d="M413,429.7H686M600.85,293.6V435.45" fill="none" stroke="#404040" stroke-width="1.3"/><path d="M413,293.6V435.45H686" fill="none" stroke="#404040" stroke-width="1.3" stroke-linejoin="miter"/><path d="M440.2,435.45v7.9 M512.6,435.45v7.9 M584.5,435.45v7.9 M657.4,435.45v7.9 M413,429.6h-7.9 M413,396.45h-7.9 M413,363.3h-7.9 M413,330.15h-7.9 M413,297h-7.9" fill="none" stroke="#404040" stroke-width="1.3"/><g fill="#222"><text transform="translate(440.2,462.7) scale(1,1.04)" font-size="12.3" text-anchor="middle">15</text><text transform="translate(512.6,462.7) scale(1,1.04)" font-size="12.3" text-anchor="middle">20</text><text transform="translate(584.5,462.7) scale(1,1.04)" font-size="12.3" text-anchor="middle">25</text><text transform="translate(657.4,462.7) scale(1,1.04)" font-size="12.3" text-anchor="middle">30</text><text transform="translate(395.3,429.6) rotate(-90) scale(1,1.05)" font-size="12.3" text-anchor="middle">1.0</text><text transform="translate(395.3,396.45) rotate(-90) scale(1,1.05)" font-size="12.3" text-anchor="middle">1.5</text><text transform="translate(395.3,363.3) rotate(-90) scale(1,1.05)" font-size="12.3" text-anchor="middle">2.0</text><text transform="translate(395.3,330.15) rotate(-90) scale(1,1.05)" font-size="12.3" text-anchor="middle">2.5</text><text transform="translate(395.3,297) rotate(-90) scale(1,1.05)" font-size="12.3" text-anchor="middle">3.0</text><text transform="translate(501.98,491.65) scale(1,1.1)" font-size="12.3" textLength="93.01" lengthAdjust="spacingAndGlyphs">Temperature (ºC)</text><text transform="translate(366.10,401.33) rotate(-90) scale(1,1.05)" font-size="12.3" textLength="75.00" lengthAdjust="spacingAndGlyphs">RR (lag 0-14)</text></g><text x="487.69" y="270.20" font-size="14.4" font-weight="bold" textLength="120.89" lengthAdjust="spacingAndGlyphs">d) Rio de Janeiro</text></g>
<g><path d="M66.5,558.2 67.2,559.5 68.0,560.8 68.7,562.1 69.5,563.4 70.2,564.7 70.9,566.1 71.6,567.4 72.3,568.7 72.9,570.1 73.6,571.4 74.3,572.8 74.9,574.1 75.6,575.4 76.2,576.8 76.9,578.1 77.6,579.5 78.3,580.8 78.9,582.2 79.6,583.5 80.3,584.8 81.0,586.2 81.7,587.5 82.4,588.8 83.2,590.1 83.9,591.4 84.6,592.7 85.4,594.0 86.1,595.3 86.8,596.7 87.5,598.0 88.2,599.3 89.0,600.6 89.7,601.9 90.5,603.2 91.3,604.5 92.1,605.7 92.9,607.0 93.7,608.3 94.5,609.5 95.3,610.8 96.1,612.1 96.9,613.3 97.7,614.6 98.5,615.9 99.3,617.2 100.1,618.4 100.9,619.7 101.6,621.0 102.4,622.3 103.2,623.6 103.9,624.9 104.7,626.1 105.5,627.4 106.4,628.6 107.3,629.8 108.2,631.0 109.2,632.1 110.2,633.2 111.3,634.3 112.3,635.4 113.4,636.4 114.4,637.5 115.5,638.6 116.5,639.6 117.6,640.7 118.7,641.7 119.8,642.7 120.9,643.8 122.0,644.7 123.2,645.7 124.4,646.6 125.6,647.5 126.8,648.3 128.1,649.2 129.3,650.0 130.5,650.9 131.8,651.7 133.1,652.5 134.3,653.3 135.6,654.1 136.9,654.9 138.2,655.7 139.5,656.3 140.8,657.0 142.2,657.7 143.5,658.4 144.9,659.0 146.2,659.6 147.6,660.3 149.0,660.9 150.3,661.5 151.7,662.1 153.1,662.7 154.4,663.4 155.8,664.0 157.2,664.6 158.5,665.2 159.9,665.8 161.3,666.3 162.7,666.8 164.2,667.3 165.6,667.8 167.0,668.3 168.4,668.8 169.8,669.3 171.2,669.7 172.7,670.2 174.1,670.7 175.5,671.1 177.0,671.6 178.4,672.0 179.8,672.4 181.3,672.9 182.7,673.4 184.1,673.9 185.5,674.3 186.9,674.8 188.4,675.3 189.8,675.8 191.2,676.2 192.7,676.6 194.1,677.1 195.5,677.5 197.0,677.8 198.5,678.2 199.9,678.5 201.4,678.8 202.9,679.1 204.3,679.3 205.8,679.6 207.3,679.9 208.8,680.1 210.2,680.4 211.7,680.7 213.2,681.0 214.7,681.3 216.1,681.6 217.6,681.9 219.1,682.2 220.5,682.5 222.0,682.8 223.5,683.1 224.9,683.4 226.4,683.7 227.9,684.0 229.4,684.2 230.8,684.5 232.3,684.8 233.8,685.1 235.3,685.4 236.7,685.6 238.2,685.9 239.7,686.1 241.2,686.3 242.7,686.6 244.1,686.8 245.6,687.0 247.1,687.2 248.6,687.4 249.6,687.5 249.5,687.5 248.0,687.7 246.5,687.8 245.0,688.0 243.5,688.1 242.0,688.2 240.5,688.3 239.0,688.3 237.5,688.4 236.0,688.4 234.5,688.4 233.0,688.4 231.5,688.4 230.0,688.4 228.5,688.3 227.0,688.2 225.5,688.1 224.0,687.9 222.6,687.7 221.1,687.5 219.6,687.3 218.1,687.1 216.6,686.8 215.1,686.6 213.7,686.4 212.2,686.1 210.7,685.9 209.2,685.7 207.7,685.5 206.2,685.3 204.8,685.1 203.3,684.8 201.8,684.6 200.3,684.4 198.8,684.2 197.3,683.9 195.9,683.7 194.4,683.4 192.9,683.1 191.4,682.8 190.0,682.5 188.5,682.2 187.0,681.9 185.6,681.6 184.1,681.3 182.6,681.0 181.2,680.7 179.7,680.4 178.2,680.2 176.7,680.0 175.2,679.9 173.7,679.7 172.3,679.4 170.8,679.2 169.3,678.9 167.8,678.6 166.4,678.3 164.9,677.9 163.5,677.5 162.0,677.1 160.6,676.6 159.2,676.2 157.8,675.7 156.3,675.2 154.9,674.7 153.5,674.1 152.1,673.6 150.7,673.1 149.3,672.5 147.9,672.0 146.5,671.5 145.1,671.0 143.7,670.5 142.3,669.9 140.9,669.4 139.5,668.8 138.1,668.3 136.7,667.8 135.3,667.2 133.9,666.7 132.5,666.2 131.1,665.7 129.6,665.2 128.2,664.8 126.8,664.4 125.3,664.0 123.9,663.6 122.4,663.2 121.0,662.8 119.6,662.3 118.2,661.8 116.8,661.2 115.4,660.7 114.0,660.1 112.6,659.6 111.2,659.1 109.7,658.6 108.3,658.1 106.9,657.6 105.5,657.1 104.1,656.6 102.6,656.2 101.2,655.7 99.8,655.3 98.3,654.9 96.9,654.5 95.4,654.1 94.0,653.8 92.5,653.4 91.1,653.1 89.6,652.7 88.2,652.3 86.7,651.8 85.3,651.4 83.9,651.0 82.4,650.5 81.0,650.1 79.5,649.7 78.1,649.3 76.7,648.9 75.2,648.5 73.8,648.1 72.3,647.7 70.9,647.3 69.4,647.0 68.0,646.6 66.5,646.2Z" fill="#e3e3e3"/><path d="M249.7,687.5 251.2,687.4 252.7,687.4 254.2,687.3 255.7,687.2 257.2,687.0 258.7,686.8 260.1,686.5 261.6,686.2 263.0,685.7 264.4,685.1 265.7,684.5 267.1,683.9 268.5,683.3 269.9,682.7 271.2,682.1 272.6,681.5 274.0,680.8 275.3,680.1 276.6,679.5 278.0,678.8 279.3,678.0 280.6,677.3 281.9,676.5 283.1,675.7 284.4,674.9 285.6,674.1 286.9,673.2 288.1,672.3 289.3,671.4 290.5,670.5 291.6,669.6 292.8,668.6 293.9,667.6 295.0,666.5 296.0,665.5 297.1,664.4 298.1,663.3 299.1,662.2 300.1,661.1 301.1,660.0 302.1,658.8 303.1,657.7 304.0,656.5 305.0,655.4 305.9,654.2 306.8,653.0 307.7,651.8 308.7,650.7 309.6,649.5 310.6,648.3 311.5,647.2 312.5,646.1 313.5,644.9 314.5,643.8 315.5,642.7 316.5,641.6 317.0,641.0 316.9,686.0 315.7,686.0 314.2,686.1 312.7,686.1 311.2,686.2 309.7,686.2 308.2,686.3 306.7,686.3 305.2,686.4 303.7,686.4 302.2,686.5 300.7,686.5 299.2,686.6 297.7,686.6 296.2,686.7 294.7,686.7 293.2,686.8 291.7,686.8 290.2,686.9 288.7,686.9 287.2,686.9 285.7,687.0 284.2,687.0 282.7,687.1 281.2,687.1 279.7,687.1 278.2,687.2 276.7,687.2 275.2,687.2 273.7,687.3 272.2,687.3 270.7,687.3 269.2,687.4 267.7,687.4 266.2,687.4 264.7,687.4 263.2,687.5 261.7,687.5 260.2,687.5 258.7,687.5 257.2,687.5 255.7,687.5 254.2,687.5 252.7,687.5 251.2,687.5 249.7,687.5Z" fill="#e3e3e3"/><path d="M56.5,687.5H328M249.7,553.1V694.5" fill="none" stroke="#fff" stroke-opacity="0.85" stroke-width="4.2"/><path d="M66.50,609.20 C66.86,609.55 67.91,610.61 68.63,611.31 C69.35,612 70.08,612.70 70.82,613.36 C71.56,614.03 72.34,614.66 73.09,615.32 C73.84,615.98 74.59,616.64 75.32,617.33 C76.04,618.02 76.74,618.74 77.44,619.45 C78.14,620.16 78.83,620.89 79.53,621.60 C80.23,622.31 80.93,623.03 81.64,623.73 C82.35,624.44 83.06,625.14 83.77,625.84 C84.49,626.54 85.20,627.25 85.92,627.94 C86.65,628.62 87.36,629.33 88.11,629.98 C88.87,630.62 89.68,631.18 90.45,631.81 C91.22,632.44 91.98,633.10 92.74,633.75 C93.50,634.40 94.25,635.06 95.01,635.70 C95.78,636.35 96.55,636.99 97.33,637.61 C98.11,638.24 98.90,638.85 99.69,639.45 C100.49,640.06 101.29,640.65 102.11,641.24 C102.92,641.82 103.73,642.40 104.56,642.96 C105.39,643.52 106.23,644.06 107.08,644.60 C107.92,645.13 108.78,645.64 109.63,646.17 C110.47,646.71 111.32,647.23 112.14,647.80 C112.96,648.37 113.73,649.03 114.54,649.60 C115.36,650.17 116.20,650.71 117.05,651.24 C117.90,651.77 118.77,652.25 119.64,652.76 C120.50,653.26 121.37,653.76 122.23,654.27 C123.09,654.78 123.94,655.30 124.80,655.82 C125.65,656.34 126.50,656.87 127.35,657.39 C128.21,657.90 129.07,658.41 129.94,658.90 C130.82,659.39 131.70,659.85 132.59,660.31 C133.48,660.76 134.38,661.20 135.28,661.64 C136.18,662.07 137.09,662.50 137.99,662.92 C138.90,663.35 139.81,663.76 140.72,664.18 C141.63,664.59 142.54,664.99 143.46,665.40 C144.37,665.80 145.29,666.20 146.21,666.60 C147.13,666.99 148.05,667.38 148.97,667.77 C149.89,668.16 150.81,668.54 151.74,668.93 C152.66,669.32 153.58,669.71 154.50,670.10 C155.42,670.48 156.34,670.88 157.27,671.24 C158.20,671.61 159.14,671.97 160.08,672.31 C161.02,672.65 161.97,672.96 162.92,673.27 C163.87,673.58 164.82,673.88 165.78,674.18 C166.73,674.47 167.69,674.76 168.65,675.04 C169.61,675.33 170.57,675.60 171.53,675.88 C172.49,676.15 173.46,676.41 174.42,676.68 C175.39,676.94 176.35,677.21 177.32,677.44 C178.30,677.67 179.28,677.86 180.26,678.04 C181.24,678.22 182.23,678.38 183.22,678.54 C184.21,678.70 185.19,678.85 186.18,679.01 C187.17,679.16 188.16,679.31 189.15,679.47 C190.13,679.62 191.12,679.78 192.11,679.94 C193.10,680.10 194.08,680.26 195.07,680.44 C196.05,680.61 197.04,680.80 198.02,680.99 C199,681.18 199.98,681.38 200.96,681.59 C201.94,681.79 202.91,682 203.89,682.21 C204.87,682.42 205.85,682.63 206.83,682.83 C207.81,683.03 208.79,683.23 209.77,683.41 C210.75,683.60 211.74,683.77 212.72,683.94 C213.71,684.11 214.69,684.27 215.68,684.42 C216.67,684.58 217.66,684.73 218.65,684.88 C219.64,685.02 220.63,685.17 221.62,685.31 C222.61,685.45 223.60,685.59 224.59,685.73 C225.58,685.86 226.57,686 227.56,686.13 C228.55,686.26 229.54,686.39 230.54,686.50 C231.53,686.60 232.53,686.67 233.53,686.75 C234.52,686.82 235.52,686.87 236.52,686.92 C237.52,686.98 238.52,687.02 239.52,687.07 C240.52,687.12 241.52,687.16 242.51,687.20 C243.51,687.24 244.51,687.28 245.51,687.33 C246.51,687.37 247.84,687.42 248.51,687.45 C249.18,687.48 249.34,687.48 249.51,687.49 M249.70,687.50 C250.20,687.50 251.70,687.49 252.70,687.48 C253.70,687.46 254.70,687.45 255.70,687.40 C256.70,687.34 257.69,687.25 258.69,687.15 C259.68,687.05 260.67,686.91 261.66,686.79 C262.66,686.67 263.65,686.57 264.64,686.43 C265.63,686.28 266.62,686.12 267.60,685.91 C268.57,685.70 269.53,685.43 270.50,685.16 C271.46,684.89 272.41,684.58 273.37,684.29 C274.33,684.01 275.29,683.73 276.25,683.45 C277.21,683.16 278.17,682.89 279.13,682.60 C280.08,682.31 281.04,682.02 281.99,681.70 C282.94,681.39 283.88,681.06 284.82,680.71 C285.76,680.36 286.68,679.99 287.61,679.62 C288.54,679.24 289.46,678.85 290.39,678.47 C291.31,678.09 292.24,677.71 293.16,677.34 C294.09,676.96 295.02,676.59 295.94,676.21 C296.87,675.84 297.80,675.46 298.72,675.09 C299.65,674.71 300.58,674.34 301.50,673.96 C302.43,673.59 303.36,673.21 304.29,672.84 C305.21,672.46 306.14,672.08 307.06,671.71 C307.99,671.33 308.92,670.95 309.85,670.59 C310.78,670.23 311.72,669.87 312.66,669.54 C313.60,669.21 314.72,668.87 315.51,668.62 C316.31,668.37 317.11,668.15 317.43,668.05" fill="none" stroke="#fff" stroke-opacity="0.6" stroke-width="3.4"/><path d="M66.50,609.20 C66.86,609.55 67.91,610.61 68.63,611.31 C69.35,612 70.08,612.70 70.82,613.36 C71.56,614.03 72.34,614.66 73.09,615.32 C73.84,615.98 74.59,616.64 75.32,617.33 C76.04,618.02 76.74,618.74 77.44,619.45 C78.14,620.16 78.83,620.89 79.53,621.60 C80.23,622.31 80.93,623.03 81.64,623.73 C82.35,624.44 83.06,625.14 83.77,625.84 C84.49,626.54 85.20,627.25 85.92,627.94 C86.65,628.62 87.36,629.33 88.11,629.98 C88.87,630.62 89.68,631.18 90.45,631.81 C91.22,632.44 91.98,633.10 92.74,633.75 C93.50,634.40 94.25,635.06 95.01,635.70 C95.78,636.35 96.55,636.99 97.33,637.61 C98.11,638.24 98.90,638.85 99.69,639.45 C100.49,640.06 101.29,640.65 102.11,641.24 C102.92,641.82 103.73,642.40 104.56,642.96 C105.39,643.52 106.23,644.06 107.08,644.60 C107.92,645.13 108.78,645.64 109.63,646.17 C110.47,646.71 111.32,647.23 112.14,647.80 C112.96,648.37 113.73,649.03 114.54,649.60 C115.36,650.17 116.20,650.71 117.05,651.24 C117.90,651.77 118.77,652.25 119.64,652.76 C120.50,653.26 121.37,653.76 122.23,654.27 C123.09,654.78 123.94,655.30 124.80,655.82 C125.65,656.34 126.50,656.87 127.35,657.39 C128.21,657.90 129.07,658.41 129.94,658.90 C130.82,659.39 131.70,659.85 132.59,660.31 C133.48,660.76 134.38,661.20 135.28,661.64 C136.18,662.07 137.09,662.50 137.99,662.92 C138.90,663.35 139.81,663.76 140.72,664.18 C141.63,664.59 142.54,664.99 143.46,665.40 C144.37,665.80 145.29,666.20 146.21,666.60 C147.13,666.99 148.05,667.38 148.97,667.77 C149.89,668.16 150.81,668.54 151.74,668.93 C152.66,669.32 153.58,669.71 154.50,670.10 C155.42,670.48 156.34,670.88 157.27,671.24 C158.20,671.61 159.14,671.97 160.08,672.31 C161.02,672.65 161.97,672.96 162.92,673.27 C163.87,673.58 164.82,673.88 165.78,674.18 C166.73,674.47 167.69,674.76 168.65,675.04 C169.61,675.33 170.57,675.60 171.53,675.88 C172.49,676.15 173.46,676.41 174.42,676.68 C175.39,676.94 176.35,677.21 177.32,677.44 C178.30,677.67 179.28,677.86 180.26,678.04 C181.24,678.22 182.23,678.38 183.22,678.54 C184.21,678.70 185.19,678.85 186.18,679.01 C187.17,679.16 188.16,679.31 189.15,679.47 C190.13,679.62 191.12,679.78 192.11,679.94 C193.10,680.10 194.08,680.26 195.07,680.44 C196.05,680.61 197.04,680.80 198.02,680.99 C199,681.18 199.98,681.38 200.96,681.59 C201.94,681.79 202.91,682 203.89,682.21 C204.87,682.42 205.85,682.63 206.83,682.83 C207.81,683.03 208.79,683.23 209.77,683.41 C210.75,683.60 211.74,683.77 212.72,683.94 C213.71,684.11 214.69,684.27 215.68,684.42 C216.67,684.58 217.66,684.73 218.65,684.88 C219.64,685.02 220.63,685.17 221.62,685.31 C222.61,685.45 223.60,685.59 224.59,685.73 C225.58,685.86 226.57,686 227.56,686.13 C228.55,686.26 229.54,686.39 230.54,686.50 C231.53,686.60 232.53,686.67 233.53,686.75 C234.52,686.82 235.52,686.87 236.52,686.92 C237.52,686.98 238.52,687.02 239.52,687.07 C240.52,687.12 241.52,687.16 242.51,687.20 C243.51,687.24 244.51,687.28 245.51,687.33 C246.51,687.37 247.84,687.42 248.51,687.45 C249.18,687.48 249.34,687.48 249.51,687.49 M249.70,687.50 C250.20,687.50 251.70,687.49 252.70,687.48 C253.70,687.46 254.70,687.45 255.70,687.40 C256.70,687.34 257.69,687.25 258.69,687.15 C259.68,687.05 260.67,686.91 261.66,686.79 C262.66,686.67 263.65,686.57 264.64,686.43 C265.63,686.28 266.62,686.12 267.60,685.91 C268.57,685.70 269.53,685.43 270.50,685.16 C271.46,684.89 272.41,684.58 273.37,684.29 C274.33,684.01 275.29,683.73 276.25,683.45 C277.21,683.16 278.17,682.89 279.13,682.60 C280.08,682.31 281.04,682.02 281.99,681.70 C282.94,681.39 283.88,681.06 284.82,680.71 C285.76,680.36 286.68,679.99 287.61,679.62 C288.54,679.24 289.46,678.85 290.39,678.47 C291.31,678.09 292.24,677.71 293.16,677.34 C294.09,676.96 295.02,676.59 295.94,676.21 C296.87,675.84 297.80,675.46 298.72,675.09 C299.65,674.71 300.58,674.34 301.50,673.96 C302.43,673.59 303.36,673.21 304.29,672.84 C305.21,672.46 306.14,672.08 307.06,671.71 C307.99,671.33 308.92,670.95 309.85,670.59 C310.78,670.23 311.72,669.87 312.66,669.54 C313.60,669.21 314.72,668.87 315.51,668.62 C316.31,668.37 317.11,668.15 317.43,668.05" fill="none" stroke="#333" stroke-width="1.05" stroke-linejoin="round"/><path d="M56.5,687.5H328M249.7,553.1V694.5" fill="none" stroke="#404040" stroke-width="1.3"/><path d="M56.5,553.1V694.5H328" fill="none" stroke="#404040" stroke-width="1.3" stroke-linejoin="miter"/><path d="M85.9,694.5v7.9 M146.9,694.5v7.9 M208,694.5v7.9 M269.1,694.5v7.9 M56.5,687.5h-7.9 M56.5,659.25h-7.9 M56.5,631h-7.9 M56.5,602.75h-7.9 M56.5,574.5h-7.9" fill="none" stroke="#404040" stroke-width="1.3"/><g fill="#222"><text transform="translate(85.9,721.9) scale(1,1.04)" font-size="12.3" text-anchor="middle">10</text><text transform="translate(146.9,721.9) scale(1,1.04)" font-size="12.3" text-anchor="middle">15</text><text transform="translate(208,721.9) scale(1,1.04)" font-size="12.3" text-anchor="middle">20</text><text transform="translate(269.1,721.9) scale(1,1.04)" font-size="12.3" text-anchor="middle">25</text><text transform="translate(38.8,687.5) rotate(-90) scale(1,1.05)" font-size="12.3" text-anchor="middle">1.0</text><text transform="translate(38.8,659.25) rotate(-90) scale(1,1.05)" font-size="12.3" text-anchor="middle">1.5</text><text transform="translate(38.8,631) rotate(-90) scale(1,1.05)" font-size="12.3" text-anchor="middle">2.0</text><text transform="translate(38.8,602.75) rotate(-90) scale(1,1.05)" font-size="12.3" text-anchor="middle">2.5</text><text transform="translate(38.8,574.5) rotate(-90) scale(1,1.05)" font-size="12.3" text-anchor="middle">3.0</text><text transform="translate(144.83,750.85) scale(1,1.1)" font-size="12.3" textLength="93.01" lengthAdjust="spacingAndGlyphs">Temperature (ºC)</text><text transform="translate(9.60,660.53) rotate(-90) scale(1,1.05)" font-size="12.3" textLength="75.00" lengthAdjust="spacingAndGlyphs">RR (lag 0-14)</text></g><text x="146.82" y="529.40" font-size="14.4" font-weight="bold" textLength="89.57" lengthAdjust="spacingAndGlyphs">e) São Paulo</text></g>
<g><path d="M423.2,558.7 423.9,560.0 424.5,561.4 425.2,562.7 425.9,564.1 426.6,565.4 427.2,566.7 427.9,568.1 428.6,569.4 429.3,570.8 430.0,572.1 430.7,573.4 431.3,574.8 432.0,576.1 432.6,577.5 433.3,578.8 433.9,580.2 434.5,581.5 435.2,582.9 435.8,584.3 436.5,585.6 437.2,586.9 437.9,588.2 438.7,589.5 439.5,590.8 440.3,592.1 441.0,593.3 441.9,594.6 442.7,595.9 443.5,597.1 444.4,598.3 445.3,599.5 446.2,600.8 447.0,602.0 447.9,603.2 448.8,604.4 449.6,605.6 450.5,606.9 451.4,608.1 452.3,609.3 453.3,610.4 454.3,611.5 455.3,612.6 456.3,613.7 457.3,614.8 458.3,615.9 459.4,617.0 460.4,618.1 461.5,619.1 462.6,620.1 463.8,621.1 464.9,622.1 466.1,623.0 467.2,624.0 468.4,624.9 469.6,625.8 470.8,626.7 472.1,627.6 473.3,628.4 474.6,629.2 475.8,630.0 477.1,630.8 478.4,631.5 479.7,632.2 481.1,632.9 482.4,633.6 483.7,634.3 485.1,635.0 486.4,635.6 487.8,636.1 489.2,636.7 490.6,637.2 492.0,637.7 493.5,638.2 494.9,638.7 496.3,639.2 497.7,639.6 499.2,640.0 500.6,640.3 502.1,640.6 503.6,640.9 505.1,641.1 506.6,641.3 508.1,641.4 509.6,641.6 511.1,641.7 512.5,641.8 514.0,641.9 515.5,642.0 517.0,642.0 518.5,642.0 520.0,642.0 521.5,642.1 523.0,642.1 524.5,642.1 526.0,642.2 527.5,642.2 529.0,642.3 530.5,642.4 532.0,642.5 533.5,642.8 535.0,643.1 536.4,643.4 537.9,643.7 539.3,644.2 540.7,644.8 542.0,645.5 543.3,646.2 544.6,646.9 545.9,647.7 547.1,648.6 548.2,649.6 549.3,650.6 550.4,651.7 551.5,652.7 552.7,653.7 553.8,654.6 555.0,655.5 556.3,656.3 557.5,657.2 558.8,658.0 560.1,658.8 561.3,659.6 562.6,660.4 563.9,661.2 565.2,661.9 566.5,662.6 567.8,663.3 569.2,663.9 570.6,664.5 572.0,665.0 573.4,665.6 574.8,666.0 576.2,666.5 577.6,667.0 579.1,667.4 580.6,667.5 582.0,667.3 583.5,667.0 584.9,666.5 586.3,665.9 587.7,665.3 589.0,664.7 590.4,664.1 591.8,663.5 593.2,663.0 594.6,662.5 596.0,662.0 597.5,661.6 598.9,661.2 600.4,660.8 601.8,660.5 603.3,660.2 604.8,659.9 606.3,659.6 607.7,659.4 609.2,659.2 610.7,659.1 612.2,659.0 613.7,658.8 615.2,658.7 616.7,658.6 618.2,658.5 619.7,658.3 621.2,658.2 622.7,658.0 624.1,657.7 625.6,657.4 627.1,657.1 628.5,656.7 629.9,656.2 631.4,655.7 632.8,655.2 634.1,654.6 635.5,654.0 636.8,653.3 638.2,652.6 639.5,651.9 640.8,651.2 642.1,650.5 643.4,649.7 644.7,648.9 646.0,648.2 647.2,647.3 648.5,646.5 649.7,645.6 650.9,644.7 652.1,643.8 653.3,642.9 654.5,642.0 655.6,641.0 656.8,640.0 657.9,639.0 659.0,638.0 660.1,637.0 661.2,636.0 662.3,635.0 663.4,634.0 664.5,633.0 665.7,632.0 666.8,631.0 667.9,630.0 669.0,629.0 670.2,628.0 671.3,627.0 672.4,626.1 673.4,625.2 673.4,688.7 672.0,688.2 670.5,687.7 669.1,687.3 667.7,686.8 666.3,686.3 664.9,685.8 663.4,685.3 662.0,684.8 660.6,684.3 659.2,683.8 657.8,683.2 656.5,682.6 655.1,682.0 653.7,681.4 652.3,680.8 651.0,680.2 649.6,679.5 648.2,678.9 646.9,678.3 645.5,677.7 644.1,677.1 642.8,676.4 641.4,675.8 640.1,675.2 638.7,674.6 637.3,674.0 635.9,673.5 634.4,673.1 633.0,672.7 631.5,672.4 630.0,672.1 628.6,671.9 627.1,671.7 625.6,671.5 624.1,671.2 622.6,671.0 621.1,670.9 619.6,670.7 618.1,670.5 616.7,670.4 615.2,670.2 613.7,670.1 612.2,670.0 610.7,669.8 609.2,669.7 607.7,669.6 606.2,669.4 604.7,669.3 603.2,669.1 601.7,669.0 600.2,668.9 598.7,668.7 597.2,668.6 595.7,668.5 594.2,668.4 592.8,668.2 591.3,668.1 589.8,668.0 588.3,667.9 586.8,667.8 585.3,667.7 583.8,667.6 582.3,667.5 580.8,667.5 579.3,667.5 577.8,667.4 576.3,667.4 574.8,667.3 573.3,667.1 571.8,666.8 570.4,666.5 568.9,666.2 567.4,665.8 566.0,665.4 564.5,665.0 563.1,664.6 561.7,664.1 560.2,663.7 558.8,663.2 557.4,662.8 556.0,662.3 554.5,661.8 553.1,661.4 551.7,660.9 550.2,660.6 548.8,660.2 547.3,659.9 545.8,659.7 544.3,659.5 542.8,659.2 541.4,659.0 539.9,658.8 538.4,658.6 536.9,658.5 535.4,658.3 533.9,658.1 532.4,658.0 530.9,657.9 529.4,657.7 527.9,657.6 526.4,657.5 525.0,657.3 523.5,657.2 522.0,657.0 520.5,656.9 519.0,656.8 517.5,656.6 516.0,656.5 514.5,656.3 513.0,656.2 511.5,656.0 510.0,655.8 508.5,655.6 507.0,655.4 505.6,655.2 504.1,655.1 502.6,654.9 501.1,654.7 499.6,654.5 498.1,654.3 496.6,654.1 495.2,653.9 493.7,653.6 492.2,653.3 490.8,652.9 489.3,652.5 487.9,652.1 486.4,651.6 485.0,651.2 483.6,650.7 482.2,650.3 480.7,649.8 479.3,649.3 477.9,648.8 476.5,648.3 475.1,647.7 473.7,647.2 472.3,646.7 470.9,646.1 469.5,645.5 468.1,645.0 466.7,644.4 465.4,643.8 464.0,643.2 462.6,642.6 461.3,642.0 459.9,641.3 458.5,640.7 457.1,640.2 455.8,639.6 454.4,639.0 453.0,638.4 451.6,637.9 450.2,637.3 448.8,636.8 447.4,636.3 446.0,635.8 444.6,635.3 443.1,634.8 441.7,634.3 440.3,633.8 438.9,633.3 437.5,632.8 436.1,632.3 434.6,631.8 433.2,631.4 431.8,630.9 430.4,630.4 428.9,630.0 427.5,629.5 426.1,629.1 424.6,628.6 423.2,628.2Z" fill="#e3e3e3"/><path d="M413,667.5H686M581.5,553.3V694.5" fill="none" stroke="#fff" stroke-opacity="0.85" stroke-width="4.2"/><path d="M423.20,597.80 C423.54,598.17 424.54,599.28 425.23,600.01 C425.91,600.74 426.59,601.47 427.30,602.18 C428,602.90 428.72,603.58 429.44,604.28 C430.15,604.99 430.87,605.68 431.57,606.39 C432.28,607.10 432.96,607.83 433.65,608.56 C434.34,609.28 435.02,610.01 435.71,610.74 C436.39,611.46 437.06,612.21 437.77,612.91 C438.48,613.62 439.21,614.30 439.96,614.97 C440.70,615.63 441.48,616.27 442.25,616.91 C443.01,617.55 443.79,618.18 444.57,618.80 C445.35,619.43 446.12,620.06 446.91,620.68 C447.69,621.30 448.48,621.92 449.27,622.53 C450.06,623.14 450.86,623.75 451.66,624.34 C452.46,624.94 453.27,625.53 454.08,626.11 C454.90,626.69 455.72,627.26 456.55,627.82 C457.38,628.38 458.22,628.93 459.06,629.47 C459.90,630.01 460.75,630.53 461.60,631.06 C462.45,631.58 463.31,632.10 464.16,632.62 C465.02,633.14 465.88,633.65 466.73,634.17 C467.58,634.69 468.43,635.23 469.29,635.73 C470.15,636.24 471.03,636.72 471.91,637.20 C472.78,637.68 473.67,638.15 474.55,638.61 C475.44,639.08 476.33,639.54 477.22,640 C478.11,640.45 479,640.90 479.89,641.35 C480.79,641.80 481.68,642.25 482.58,642.68 C483.48,643.12 484.38,643.56 485.29,643.96 C486.21,644.35 487.15,644.71 488.09,645.04 C489.03,645.38 489.99,645.67 490.95,645.95 C491.90,646.24 492.87,646.50 493.84,646.76 C494.80,647.01 495.78,647.25 496.75,647.48 C497.72,647.70 498.70,647.92 499.68,648.12 C500.66,648.32 501.64,648.51 502.63,648.68 C503.61,648.84 504.60,648.99 505.59,649.14 C506.58,649.28 507.57,649.41 508.56,649.55 C509.55,649.69 510.54,649.82 511.53,649.97 C512.52,650.13 513.50,650.31 514.49,650.48 C515.47,650.65 516.45,650.88 517.44,651.02 C518.43,651.15 519.42,651.24 520.42,651.29 C521.42,651.33 522.42,651.30 523.42,651.30 C524.42,651.30 525.42,651.29 526.42,651.28 C527.42,651.28 528.42,651.25 529.42,651.27 C530.42,651.29 531.42,651.33 532.41,651.41 C533.41,651.49 534.41,651.60 535.40,651.74 C536.38,651.88 537.37,652.04 538.35,652.26 C539.32,652.49 540.28,652.78 541.23,653.07 C542.19,653.35 543.14,653.68 544.09,653.99 C545.03,654.31 545.99,654.61 546.92,654.96 C547.86,655.31 548.80,655.66 549.70,656.10 C550.59,656.54 551.42,657.10 552.29,657.59 C553.17,658.07 554.03,658.58 554.93,659.01 C555.83,659.44 556.77,659.79 557.69,660.19 C558.60,660.59 559.52,660.98 560.42,661.41 C561.32,661.85 562.20,662.33 563.09,662.78 C563.98,663.24 564.84,663.76 565.75,664.15 C566.67,664.55 567.62,664.87 568.57,665.16 C569.52,665.46 570.50,665.70 571.47,665.94 C572.44,666.18 573.41,666.40 574.40,666.59 C575.38,666.78 576.36,666.95 577.35,667.08 C578.34,667.21 579.34,667.31 580.34,667.35 C581.33,667.39 582.34,667.36 583.33,667.31 C584.33,667.25 585.32,667.13 586.32,667.02 C587.31,666.92 588.31,666.80 589.30,666.70 C590.30,666.60 591.29,666.52 592.29,666.44 C593.29,666.36 594.28,666.28 595.28,666.21 C596.28,666.15 597.28,666.09 598.28,666.04 C599.27,665.99 600.27,665.95 601.27,665.91 C602.27,665.87 603.27,665.83 604.27,665.79 C605.27,665.75 606.27,665.72 607.27,665.69 C608.27,665.66 609.27,665.62 610.27,665.60 C611.27,665.57 612.27,665.55 613.27,665.53 C614.27,665.51 615.27,665.50 616.27,665.49 C617.27,665.48 618.27,665.48 619.27,665.48 C620.27,665.48 621.27,665.48 622.27,665.49 C623.27,665.49 624.27,665.51 625.27,665.52 C626.27,665.53 627.27,665.54 628.27,665.56 C629.27,665.57 630.27,665.58 631.27,665.60 C632.27,665.62 633.27,665.64 634.26,665.66 C635.26,665.68 636.26,665.70 637.26,665.73 C638.26,665.75 639.26,665.78 640.26,665.80 C641.26,665.83 642.26,665.86 643.26,665.89 C644.26,665.91 645.26,665.94 646.26,665.97 C647.26,666 648.26,666.03 649.26,666.05 C650.26,666.08 651.26,666.11 652.26,666.14 C653.26,666.17 654.26,666.20 655.26,666.23 C656.26,666.26 657.26,666.29 658.26,666.32 C659.26,666.35 660.25,666.38 661.25,666.41 C662.25,666.44 663.25,666.47 664.25,666.50 C665.25,666.54 666.25,666.57 667.25,666.60 C668.25,666.63 669.25,666.66 670.25,666.70 C671.25,666.73 672.75,666.78 673.25,666.80" fill="none" stroke="#fff" stroke-opacity="0.6" stroke-width="3.4"/><path d="M423.20,597.80 C423.54,598.17 424.54,599.28 425.23,600.01 C425.91,600.74 426.59,601.47 427.30,602.18 C428,602.90 428.72,603.58 429.44,604.28 C430.15,604.99 430.87,605.68 431.57,606.39 C432.28,607.10 432.96,607.83 433.65,608.56 C434.34,609.28 435.02,610.01 435.71,610.74 C436.39,611.46 437.06,612.21 437.77,612.91 C438.48,613.62 439.21,614.30 439.96,614.97 C440.70,615.63 441.48,616.27 442.25,616.91 C443.01,617.55 443.79,618.18 444.57,618.80 C445.35,619.43 446.12,620.06 446.91,620.68 C447.69,621.30 448.48,621.92 449.27,622.53 C450.06,623.14 450.86,623.75 451.66,624.34 C452.46,624.94 453.27,625.53 454.08,626.11 C454.90,626.69 455.72,627.26 456.55,627.82 C457.38,628.38 458.22,628.93 459.06,629.47 C459.90,630.01 460.75,630.53 461.60,631.06 C462.45,631.58 463.31,632.10 464.16,632.62 C465.02,633.14 465.88,633.65 466.73,634.17 C467.58,634.69 468.43,635.23 469.29,635.73 C470.15,636.24 471.03,636.72 471.91,637.20 C472.78,637.68 473.67,638.15 474.55,638.61 C475.44,639.08 476.33,639.54 477.22,640 C478.11,640.45 479,640.90 479.89,641.35 C480.79,641.80 481.68,642.25 482.58,642.68 C483.48,643.12 484.38,643.56 485.29,643.96 C486.21,644.35 487.15,644.71 488.09,645.04 C489.03,645.38 489.99,645.67 490.95,645.95 C491.90,646.24 492.87,646.50 493.84,646.76 C494.80,647.01 495.78,647.25 496.75,647.48 C497.72,647.70 498.70,647.92 499.68,648.12 C500.66,648.32 501.64,648.51 502.63,648.68 C503.61,648.84 504.60,648.99 505.59,649.14 C506.58,649.28 507.57,649.41 508.56,649.55 C509.55,649.69 510.54,649.82 511.53,649.97 C512.52,650.13 513.50,650.31 514.49,650.48 C515.47,650.65 516.45,650.88 517.44,651.02 C518.43,651.15 519.42,651.24 520.42,651.29 C521.42,651.33 522.42,651.30 523.42,651.30 C524.42,651.30 525.42,651.29 526.42,651.28 C527.42,651.28 528.42,651.25 529.42,651.27 C530.42,651.29 531.42,651.33 532.41,651.41 C533.41,651.49 534.41,651.60 535.40,651.74 C536.38,651.88 537.37,652.04 538.35,652.26 C539.32,652.49 540.28,652.78 541.23,653.07 C542.19,653.35 543.14,653.68 544.09,653.99 C545.03,654.31 545.99,654.61 546.92,654.96 C547.86,655.31 548.80,655.66 549.70,656.10 C550.59,656.54 551.42,657.10 552.29,657.59 C553.17,658.07 554.03,658.58 554.93,659.01 C555.83,659.44 556.77,659.79 557.69,660.19 C558.60,660.59 559.52,660.98 560.42,661.41 C561.32,661.85 562.20,662.33 563.09,662.78 C563.98,663.24 564.84,663.76 565.75,664.15 C566.67,664.55 567.62,664.87 568.57,665.16 C569.52,665.46 570.50,665.70 571.47,665.94 C572.44,666.18 573.41,666.40 574.40,666.59 C575.38,666.78 576.36,666.95 577.35,667.08 C578.34,667.21 579.34,667.31 580.34,667.35 C581.33,667.39 582.34,667.36 583.33,667.31 C584.33,667.25 585.32,667.13 586.32,667.02 C587.31,666.92 588.31,666.80 589.30,666.70 C590.30,666.60 591.29,666.52 592.29,666.44 C593.29,666.36 594.28,666.28 595.28,666.21 C596.28,666.15 597.28,666.09 598.28,666.04 C599.27,665.99 600.27,665.95 601.27,665.91 C602.27,665.87 603.27,665.83 604.27,665.79 C605.27,665.75 606.27,665.72 607.27,665.69 C608.27,665.66 609.27,665.62 610.27,665.60 C611.27,665.57 612.27,665.55 613.27,665.53 C614.27,665.51 615.27,665.50 616.27,665.49 C617.27,665.48 618.27,665.48 619.27,665.48 C620.27,665.48 621.27,665.48 622.27,665.49 C623.27,665.49 624.27,665.51 625.27,665.52 C626.27,665.53 627.27,665.54 628.27,665.56 C629.27,665.57 630.27,665.58 631.27,665.60 C632.27,665.62 633.27,665.64 634.26,665.66 C635.26,665.68 636.26,665.70 637.26,665.73 C638.26,665.75 639.26,665.78 640.26,665.80 C641.26,665.83 642.26,665.86 643.26,665.89 C644.26,665.91 645.26,665.94 646.26,665.97 C647.26,666 648.26,666.03 649.26,666.05 C650.26,666.08 651.26,666.11 652.26,666.14 C653.26,666.17 654.26,666.20 655.26,666.23 C656.26,666.26 657.26,666.29 658.26,666.32 C659.26,666.35 660.25,666.38 661.25,666.41 C662.25,666.44 663.25,666.47 664.25,666.50 C665.25,666.54 666.25,666.57 667.25,666.60 C668.25,666.63 669.25,666.66 670.25,666.70 C671.25,666.73 672.75,666.78 673.25,666.80" fill="none" stroke="#333" stroke-width="1.05" stroke-linejoin="round"/><path d="M413,667.5H686M581.5,553.3V694.5" fill="none" stroke="#404040" stroke-width="1.3"/><path d="M413,553.3V694.5H686" fill="none" stroke="#404040" stroke-width="1.3" stroke-linejoin="miter"/><path d="M423.15,694.5v7.9 M469.5,694.5v7.9 M516.5,694.5v7.9 M563.6,694.5v7.9 M610.85,694.5v7.9 M658.05,694.5v7.9 M413,689.6h-7.9 M413,667.61h-7.9 M413,645.62h-7.9 M413,623.63h-7.9 M413,601.65h-7.9 M413,579.66h-7.9 M413,557.67h-7.9" fill="none" stroke="#404040" stroke-width="1.3"/><g fill="#222"><text transform="translate(423.15,721.9) scale(1,1.04)" font-size="12.3" text-anchor="middle">5</text><text transform="translate(469.5,721.9) scale(1,1.04)" font-size="12.3" text-anchor="middle">10</text><text transform="translate(516.5,721.9) scale(1,1.04)" font-size="12.3" text-anchor="middle">15</text><text transform="translate(563.6,721.9) scale(1,1.04)" font-size="12.3" text-anchor="middle">20</text><text transform="translate(610.85,721.9) scale(1,1.04)" font-size="12.3" text-anchor="middle">25</text><text transform="translate(658.05,721.9) scale(1,1.04)" font-size="12.3" text-anchor="middle">30</text><text transform="translate(395.3,689.6) rotate(-90) scale(1,1.05)" font-size="12.3" text-anchor="middle">0.5</text><text transform="translate(395.3,645.62) rotate(-90) scale(1,1.05)" font-size="12.3" text-anchor="middle">1.5</text><text transform="translate(395.3,601.65) rotate(-90) scale(1,1.05)" font-size="12.3" text-anchor="middle">2.5</text><text transform="translate(395.3,557.67) rotate(-90) scale(1,1.05)" font-size="12.3" text-anchor="middle">3.5</text><text transform="translate(501.98,750.85) scale(1,1.1)" font-size="12.3" textLength="93.01" lengthAdjust="spacingAndGlyphs">Temperature (ºC)</text><text transform="translate(366.10,660.53) rotate(-90) scale(1,1.05)" font-size="12.3" textLength="75.00" lengthAdjust="spacingAndGlyphs">RR (lag 0-14)</text></g><text x="496.75" y="529.40" font-size="14.4" font-weight="bold" textLength="100.95" lengthAdjust="spacingAndGlyphs">f) Porto Alegre</text></g>
</svg></body></html>
